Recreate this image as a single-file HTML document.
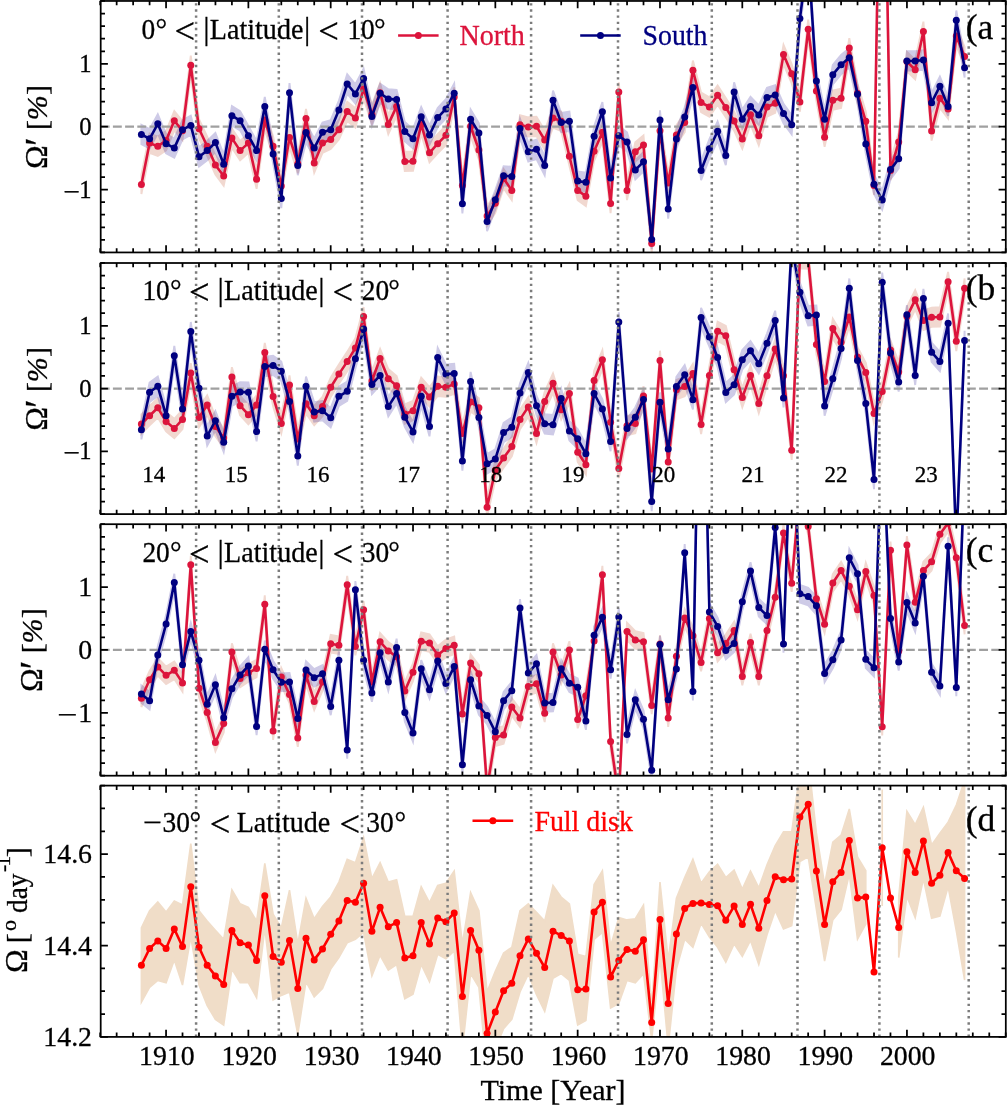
<!DOCTYPE html>
<html><head><meta charset="utf-8"><title>Solar rotation</title><style>html,body{margin:0;padding:0;background:#fff}svg{display:block}text{stroke:#000;stroke-width:.3px}</style></head><body>
<svg width="1007" height="1105" viewBox="0 0 1007 1105" font-family="'Liberation Serif', 'DejaVu Serif', serif">
<rect width="1007" height="1105" fill="#fff"/>
<defs>
<clipPath id="cpa"><rect x="100.7" y="0.96" width="905.0999999999999" height="251.48"/></clipPath>
<clipPath id="cpb"><rect x="100.7" y="263.0" width="905.0999999999999" height="251.10000000000002"/></clipPath>
<clipPath id="cpc"><rect x="100.7" y="524.2" width="905.0999999999999" height="251.5"/></clipPath>
<clipPath id="cpd"><rect x="100.7" y="785.6" width="905.0999999999999" height="251.30000000000007"/></clipPath>
</defs>
<g clip-path="url(#cpa)">
<polygon points="141.4,174.8 149.6,133.5 157.8,136.6 166.1,131.0 174.3,111.1 182.5,121.0 190.8,55.7 199.0,119.2 207.2,136.6 215.4,155.3 223.7,166.5 231.9,128.5 240.1,140.9 248.4,133.5 256.6,169.6 264.8,110.4 273.1,136.6 281.3,176.4 289.5,127.9 297.8,154.0 306.0,108.9 314.2,153.4 322.5,133.5 330.7,129.7 338.9,120.1 347.2,101.7 355.4,108.3 363.6,79.3 371.9,104.8 380.1,83.1 388.3,114.8 396.6,96.8 404.8,151.8 413.0,151.5 421.2,114.8 429.5,143.1 437.7,134.1 445.9,125.7 454.2,87.4 462.4,175.8 470.6,116.7 478.9,140.3 487.1,206.3 495.3,193.5 503.6,169.0 511.8,180.8 520.0,115.1 528.3,117.3 536.5,116.7 544.7,130.4 553.0,108.3 561.2,111.7 569.4,146.5 577.7,180.8 585.9,186.7 594.1,141.6 602.4,122.6 610.6,193.8 618.8,82.4 627.0,180.8 635.3,142.2 643.5,135.3 651.7,234.0 660.0,121.0 668.2,173.3 676.4,125.4 684.7,112.9 692.9,60.6 701.1,92.7 709.4,97.4 717.6,85.5 725.8,98.0 734.1,111.4 742.3,129.4 750.5,105.2 758.8,126.0 767.0,97.4 775.2,93.6 783.5,44.8 791.7,64.1 799.9,92.4 808.2,19.6 816.4,81.5 824.6,127.6 832.8,90.5 841.1,88.7 849.3,38.2 857.5,83.7 865.8,111.7 874.0,175.8 882.2,-300.4 890.5,160.9 898.7,132.2 906.9,51.9 915.2,60.0 923.4,21.7 931.6,121.3 939.9,88.7 948.1,99.2 956.3,26.4 964.6,47.0 964.6,66.3 956.3,45.7 948.1,118.5 939.9,108.0 931.6,140.6 923.4,41.0 915.2,79.3 906.9,71.2 898.7,151.5 890.5,180.2 882.2,-281.1 874.0,195.1 865.8,131.0 857.5,103.0 849.3,57.5 841.1,108.0 832.8,109.8 824.6,146.9 816.4,100.8 808.2,38.9 799.9,111.7 791.7,83.4 783.5,64.1 775.2,112.9 767.0,116.7 758.8,145.3 750.5,124.4 742.3,148.7 734.1,130.7 725.8,117.3 717.6,104.8 709.4,116.7 701.1,112.0 692.9,79.9 684.7,132.2 676.4,144.7 668.2,192.6 660.0,140.3 651.7,253.3 643.5,154.6 635.3,161.5 627.0,200.1 618.8,101.7 610.6,213.1 602.4,141.9 594.1,160.9 585.9,206.0 577.7,200.1 569.4,165.8 561.2,131.0 553.0,127.6 544.7,149.7 536.5,136.0 528.3,136.6 520.0,134.4 511.8,200.1 503.6,188.2 495.3,212.8 487.1,225.6 478.9,159.6 470.6,136.0 462.4,195.1 454.2,106.7 445.9,145.0 437.7,153.4 429.5,162.4 421.2,134.1 413.0,170.8 404.8,171.1 396.6,116.0 388.3,134.1 380.1,102.4 371.9,124.1 363.6,98.6 355.4,127.6 347.2,121.0 338.9,139.4 330.7,149.0 322.5,152.8 314.2,172.7 306.0,128.2 297.8,173.3 289.5,147.2 281.3,195.7 273.1,155.9 264.8,129.7 256.6,188.9 248.4,152.8 240.1,160.2 231.9,147.8 223.7,185.8 215.4,174.6 207.2,155.9 199.0,138.5 190.8,75.0 182.5,140.3 174.3,130.4 166.1,150.3 157.8,155.9 149.6,152.8 141.4,194.1" fill="#c0502a" stroke="#c0502a" stroke-width="1.9" stroke-miterlimit="4" opacity="0.22"/>
<polygon points="141.4,124.8 149.6,129.1 157.8,114.2 166.1,134.1 174.3,138.5 182.5,120.1 190.8,115.7 199.0,147.2 207.2,140.9 215.4,132.9 223.7,154.6 231.9,106.1 240.1,111.1 248.4,126.0 256.6,140.9 264.8,96.8 273.1,144.4 281.3,188.9 289.5,83.1 297.8,155.9 306.0,122.9 314.2,138.5 322.5,122.6 330.7,120.1 338.9,100.5 347.2,74.3 355.4,84.3 363.6,68.7 371.9,106.7 380.1,83.7 388.3,89.3 396.6,89.9 404.8,122.0 413.0,129.1 421.2,107.0 429.5,125.4 437.7,108.0 445.9,99.2 454.2,83.7 462.4,194.2 470.6,109.5 478.9,123.2 487.1,211.9 495.3,190.1 503.6,166.2 511.8,166.8 520.0,118.8 528.3,142.2 536.5,139.7 544.7,155.9 553.0,90.5 561.2,112.9 569.4,111.7 577.7,171.4 585.9,172.7 594.1,126.6 602.4,102.0 610.6,168.3 618.8,126.0 627.0,132.2 635.3,160.2 643.5,152.1 651.7,229.9 660.0,110.4 668.2,199.5 676.4,129.4 684.7,107.3 692.9,77.8 701.1,160.9 709.4,139.1 717.6,121.6 725.8,145.9 734.1,82.4 742.3,109.5 750.5,96.8 758.8,105.5 767.0,87.7 775.2,85.2 783.5,103.9 791.7,115.1 799.9,9.0 808.2,-54.5 816.4,71.2 824.6,109.5 832.8,65.0 841.1,55.0 849.3,48.2 857.5,84.6 865.8,134.4 874.0,174.6 882.2,190.4 890.5,159.9 898.7,149.0 906.9,51.3 915.2,51.3 923.4,50.4 931.6,93.0 939.9,76.5 948.1,96.8 956.3,10.5 964.6,58.2 964.6,77.5 956.3,29.8 948.1,116.0 939.9,95.8 931.6,112.3 923.4,69.7 915.2,70.6 906.9,70.6 898.7,168.3 890.5,179.2 882.2,209.7 874.0,193.8 865.8,153.7 857.5,103.9 849.3,67.5 841.1,74.3 832.8,84.3 824.6,128.8 816.4,90.5 808.2,-35.2 799.9,28.3 791.7,134.4 783.5,123.2 775.2,104.5 767.0,107.0 758.8,124.8 750.5,116.0 742.3,128.8 734.1,101.7 725.8,165.2 717.6,140.9 709.4,158.4 701.1,180.2 692.9,97.1 684.7,126.6 676.4,148.7 668.2,218.7 660.0,129.7 651.7,249.2 643.5,171.4 635.3,179.5 627.0,151.5 618.8,145.3 610.6,187.6 602.4,121.3 594.1,145.9 585.9,192.0 577.7,190.7 569.4,131.0 561.2,132.2 553.0,109.8 544.7,175.2 536.5,159.0 528.3,161.5 520.0,138.1 511.8,186.1 503.6,185.4 495.3,209.4 487.1,231.2 478.9,142.5 470.6,128.8 462.4,213.5 454.2,103.0 445.9,118.5 437.7,127.2 429.5,144.7 421.2,126.3 413.0,148.4 404.8,141.3 396.6,109.2 388.3,108.6 380.1,103.0 371.9,126.0 363.6,88.0 355.4,103.6 347.2,93.6 338.9,119.8 330.7,139.4 322.5,141.9 314.2,157.7 306.0,142.2 297.8,175.2 289.5,102.4 281.3,208.2 273.1,163.7 264.8,116.0 256.6,160.2 248.4,145.3 240.1,130.4 231.9,125.4 223.7,173.9 215.4,152.1 207.2,160.2 199.0,166.5 190.8,135.0 182.5,139.4 174.3,157.7 166.1,153.4 157.8,133.5 149.6,148.4 141.4,144.1" fill="#1a0a90" stroke="#1a0a90" stroke-width="1.9" stroke-miterlimit="4" opacity="0.21"/>
<line x1="100.7" x2="1005.8" y1="126.70" y2="126.70" stroke="#a0a0a0" stroke-width="2.2" stroke-dasharray="8.9 3.3"/>
<polyline fill="none" stroke="#dc143c" stroke-width="2.6" stroke-linejoin="round" points="141.4,184.5 149.6,143.1 157.8,146.2 166.1,140.6 174.3,120.7 182.5,130.7 190.8,65.3 199.0,128.8 207.2,146.2 215.4,164.9 223.7,176.1 231.9,138.1 240.1,150.6 248.4,143.1 256.6,179.2 264.8,120.1 273.1,146.2 281.3,186.1 289.5,137.5 297.8,163.7 306.0,118.5 314.2,163.0 322.5,143.1 330.7,139.4 338.9,129.7 347.2,111.4 355.4,117.9 363.6,89.0 371.9,114.5 380.1,92.7 388.3,124.4 396.6,106.4 404.8,161.5 413.0,161.2 421.2,124.4 429.5,152.8 437.7,143.7 445.9,135.3 454.2,97.1 462.4,185.4 470.6,126.3 478.9,150.0 487.1,215.9 495.3,203.2 503.6,178.6 511.8,190.4 520.0,124.8 528.3,126.9 536.5,126.3 544.7,140.0 553.0,117.9 561.2,121.3 569.4,156.2 577.7,190.4 585.9,196.3 594.1,151.2 602.4,132.2 610.6,203.5 618.8,92.1 627.0,190.4 635.3,151.8 643.5,145.0 651.7,243.6 660.0,130.7 668.2,183.0 676.4,135.0 684.7,122.6 692.9,70.3 701.1,102.4 709.4,107.0 717.6,95.2 725.8,107.6 734.1,121.0 742.3,139.1 750.5,114.8 758.8,135.7 767.0,107.0 775.2,103.3 783.5,54.4 791.7,73.7 799.9,102.0 808.2,29.2 816.4,91.1 824.6,137.2 832.8,100.2 841.1,98.3 849.3,47.9 857.5,93.3 865.8,121.3 874.0,185.4 882.2,-290.7 890.5,170.5 898.7,141.9 906.9,61.6 915.2,69.7 923.4,31.4 931.6,131.0 939.9,98.3 948.1,108.9 956.3,36.1 964.6,56.6"/>
<g fill="#dc143c"><circle cx="141.4" cy="184.5" r="3.5"/><circle cx="149.6" cy="143.1" r="3.5"/><circle cx="157.8" cy="146.2" r="3.5"/><circle cx="166.1" cy="140.6" r="3.5"/><circle cx="174.3" cy="120.7" r="3.5"/><circle cx="182.5" cy="130.7" r="3.5"/><circle cx="190.8" cy="65.3" r="3.5"/><circle cx="199.0" cy="128.8" r="3.5"/><circle cx="207.2" cy="146.2" r="3.5"/><circle cx="215.4" cy="164.9" r="3.5"/><circle cx="223.7" cy="176.1" r="3.5"/><circle cx="231.9" cy="138.1" r="3.5"/><circle cx="240.1" cy="150.6" r="3.5"/><circle cx="248.4" cy="143.1" r="3.5"/><circle cx="256.6" cy="179.2" r="3.5"/><circle cx="264.8" cy="120.1" r="3.5"/><circle cx="273.1" cy="146.2" r="3.5"/><circle cx="281.3" cy="186.1" r="3.5"/><circle cx="289.5" cy="137.5" r="3.5"/><circle cx="297.8" cy="163.7" r="3.5"/><circle cx="306.0" cy="118.5" r="3.5"/><circle cx="314.2" cy="163.0" r="3.5"/><circle cx="322.5" cy="143.1" r="3.5"/><circle cx="330.7" cy="139.4" r="3.5"/><circle cx="338.9" cy="129.7" r="3.5"/><circle cx="347.2" cy="111.4" r="3.5"/><circle cx="355.4" cy="117.9" r="3.5"/><circle cx="363.6" cy="89.0" r="3.5"/><circle cx="371.9" cy="114.5" r="3.5"/><circle cx="380.1" cy="92.7" r="3.5"/><circle cx="388.3" cy="124.4" r="3.5"/><circle cx="396.6" cy="106.4" r="3.5"/><circle cx="404.8" cy="161.5" r="3.5"/><circle cx="413.0" cy="161.2" r="3.5"/><circle cx="421.2" cy="124.4" r="3.5"/><circle cx="429.5" cy="152.8" r="3.5"/><circle cx="437.7" cy="143.7" r="3.5"/><circle cx="445.9" cy="135.3" r="3.5"/><circle cx="454.2" cy="97.1" r="3.5"/><circle cx="462.4" cy="185.4" r="3.5"/><circle cx="470.6" cy="126.3" r="3.5"/><circle cx="478.9" cy="150.0" r="3.5"/><circle cx="487.1" cy="215.9" r="3.5"/><circle cx="495.3" cy="203.2" r="3.5"/><circle cx="503.6" cy="178.6" r="3.5"/><circle cx="511.8" cy="190.4" r="3.5"/><circle cx="520.0" cy="124.8" r="3.5"/><circle cx="528.3" cy="126.9" r="3.5"/><circle cx="536.5" cy="126.3" r="3.5"/><circle cx="544.7" cy="140.0" r="3.5"/><circle cx="553.0" cy="117.9" r="3.5"/><circle cx="561.2" cy="121.3" r="3.5"/><circle cx="569.4" cy="156.2" r="3.5"/><circle cx="577.7" cy="190.4" r="3.5"/><circle cx="585.9" cy="196.3" r="3.5"/><circle cx="594.1" cy="151.2" r="3.5"/><circle cx="602.4" cy="132.2" r="3.5"/><circle cx="610.6" cy="203.5" r="3.5"/><circle cx="618.8" cy="92.1" r="3.5"/><circle cx="627.0" cy="190.4" r="3.5"/><circle cx="635.3" cy="151.8" r="3.5"/><circle cx="643.5" cy="145.0" r="3.5"/><circle cx="651.7" cy="243.6" r="3.5"/><circle cx="660.0" cy="130.7" r="3.5"/><circle cx="668.2" cy="183.0" r="3.5"/><circle cx="676.4" cy="135.0" r="3.5"/><circle cx="684.7" cy="122.6" r="3.5"/><circle cx="692.9" cy="70.3" r="3.5"/><circle cx="701.1" cy="102.4" r="3.5"/><circle cx="709.4" cy="107.0" r="3.5"/><circle cx="717.6" cy="95.2" r="3.5"/><circle cx="725.8" cy="107.6" r="3.5"/><circle cx="734.1" cy="121.0" r="3.5"/><circle cx="742.3" cy="139.1" r="3.5"/><circle cx="750.5" cy="114.8" r="3.5"/><circle cx="758.8" cy="135.7" r="3.5"/><circle cx="767.0" cy="107.0" r="3.5"/><circle cx="775.2" cy="103.3" r="3.5"/><circle cx="783.5" cy="54.4" r="3.5"/><circle cx="791.7" cy="73.7" r="3.5"/><circle cx="799.9" cy="102.0" r="3.5"/><circle cx="808.2" cy="29.2" r="3.5"/><circle cx="816.4" cy="91.1" r="3.5"/><circle cx="824.6" cy="137.2" r="3.5"/><circle cx="832.8" cy="100.2" r="3.5"/><circle cx="841.1" cy="98.3" r="3.5"/><circle cx="849.3" cy="47.9" r="3.5"/><circle cx="857.5" cy="93.3" r="3.5"/><circle cx="865.8" cy="121.3" r="3.5"/><circle cx="874.0" cy="185.4" r="3.5"/><circle cx="890.5" cy="170.5" r="3.5"/><circle cx="898.7" cy="141.9" r="3.5"/><circle cx="906.9" cy="61.6" r="3.5"/><circle cx="915.2" cy="69.7" r="3.5"/><circle cx="923.4" cy="31.4" r="3.5"/><circle cx="931.6" cy="131.0" r="3.5"/><circle cx="939.9" cy="98.3" r="3.5"/><circle cx="948.1" cy="108.9" r="3.5"/><circle cx="956.3" cy="36.1" r="3.5"/><circle cx="964.6" cy="56.6" r="3.5"/></g>
<polyline fill="none" stroke="#000080" stroke-width="2.6" stroke-linejoin="round" points="141.4,134.4 149.6,138.8 157.8,123.8 166.1,143.7 174.3,148.1 182.5,129.7 190.8,125.4 199.0,156.8 207.2,150.6 215.4,142.5 223.7,164.3 231.9,115.7 240.1,120.7 248.4,135.7 256.6,150.6 264.8,106.4 273.1,154.0 281.3,198.5 289.5,92.7 297.8,165.5 306.0,132.5 314.2,148.1 322.5,132.2 330.7,129.7 338.9,110.1 347.2,84.0 355.4,93.9 363.6,78.4 371.9,116.4 380.1,93.3 388.3,98.9 396.6,99.6 404.8,131.6 413.0,138.8 421.2,116.7 429.5,135.0 437.7,117.6 445.9,108.9 454.2,93.3 462.4,203.8 470.6,119.2 478.9,132.9 487.1,221.5 495.3,199.8 503.6,175.8 511.8,176.4 520.0,128.5 528.3,151.8 536.5,149.3 544.7,165.5 553.0,100.2 561.2,122.6 569.4,121.3 577.7,181.1 585.9,182.3 594.1,136.3 602.4,111.7 610.6,178.0 618.8,135.7 627.0,141.9 635.3,169.9 643.5,161.8 651.7,239.6 660.0,120.1 668.2,209.1 676.4,139.1 684.7,117.0 692.9,87.4 701.1,170.5 709.4,148.7 717.6,131.3 725.8,155.6 734.1,92.1 742.3,119.2 750.5,106.4 758.8,115.1 767.0,97.4 775.2,94.9 783.5,113.6 791.7,124.8 799.9,18.6 808.2,-44.9 816.4,80.9 824.6,119.2 832.8,74.7 841.1,64.7 849.3,57.8 857.5,94.3 865.8,144.1 874.0,184.2 882.2,200.1 890.5,169.6 898.7,158.7 906.9,61.0 915.2,61.0 923.4,60.0 931.6,102.7 939.9,86.2 948.1,106.4 956.3,20.2 964.6,67.8"/>
<g fill="#000080"><circle cx="141.4" cy="134.4" r="3.5"/><circle cx="149.6" cy="138.8" r="3.5"/><circle cx="157.8" cy="123.8" r="3.5"/><circle cx="166.1" cy="143.7" r="3.5"/><circle cx="174.3" cy="148.1" r="3.5"/><circle cx="182.5" cy="129.7" r="3.5"/><circle cx="190.8" cy="125.4" r="3.5"/><circle cx="199.0" cy="156.8" r="3.5"/><circle cx="207.2" cy="150.6" r="3.5"/><circle cx="215.4" cy="142.5" r="3.5"/><circle cx="223.7" cy="164.3" r="3.5"/><circle cx="231.9" cy="115.7" r="3.5"/><circle cx="240.1" cy="120.7" r="3.5"/><circle cx="248.4" cy="135.7" r="3.5"/><circle cx="256.6" cy="150.6" r="3.5"/><circle cx="264.8" cy="106.4" r="3.5"/><circle cx="273.1" cy="154.0" r="3.5"/><circle cx="281.3" cy="198.5" r="3.5"/><circle cx="289.5" cy="92.7" r="3.5"/><circle cx="297.8" cy="165.5" r="3.5"/><circle cx="306.0" cy="132.5" r="3.5"/><circle cx="314.2" cy="148.1" r="3.5"/><circle cx="322.5" cy="132.2" r="3.5"/><circle cx="330.7" cy="129.7" r="3.5"/><circle cx="338.9" cy="110.1" r="3.5"/><circle cx="347.2" cy="84.0" r="3.5"/><circle cx="355.4" cy="93.9" r="3.5"/><circle cx="363.6" cy="78.4" r="3.5"/><circle cx="371.9" cy="116.4" r="3.5"/><circle cx="380.1" cy="93.3" r="3.5"/><circle cx="388.3" cy="98.9" r="3.5"/><circle cx="396.6" cy="99.6" r="3.5"/><circle cx="404.8" cy="131.6" r="3.5"/><circle cx="413.0" cy="138.8" r="3.5"/><circle cx="421.2" cy="116.7" r="3.5"/><circle cx="429.5" cy="135.0" r="3.5"/><circle cx="437.7" cy="117.6" r="3.5"/><circle cx="445.9" cy="108.9" r="3.5"/><circle cx="454.2" cy="93.3" r="3.5"/><circle cx="462.4" cy="203.8" r="3.5"/><circle cx="470.6" cy="119.2" r="3.5"/><circle cx="478.9" cy="132.9" r="3.5"/><circle cx="487.1" cy="221.5" r="3.5"/><circle cx="495.3" cy="199.8" r="3.5"/><circle cx="503.6" cy="175.8" r="3.5"/><circle cx="511.8" cy="176.4" r="3.5"/><circle cx="520.0" cy="128.5" r="3.5"/><circle cx="528.3" cy="151.8" r="3.5"/><circle cx="536.5" cy="149.3" r="3.5"/><circle cx="544.7" cy="165.5" r="3.5"/><circle cx="553.0" cy="100.2" r="3.5"/><circle cx="561.2" cy="122.6" r="3.5"/><circle cx="569.4" cy="121.3" r="3.5"/><circle cx="577.7" cy="181.1" r="3.5"/><circle cx="585.9" cy="182.3" r="3.5"/><circle cx="594.1" cy="136.3" r="3.5"/><circle cx="602.4" cy="111.7" r="3.5"/><circle cx="610.6" cy="178.0" r="3.5"/><circle cx="618.8" cy="135.7" r="3.5"/><circle cx="627.0" cy="141.9" r="3.5"/><circle cx="635.3" cy="169.9" r="3.5"/><circle cx="643.5" cy="161.8" r="3.5"/><circle cx="651.7" cy="239.6" r="3.5"/><circle cx="660.0" cy="120.1" r="3.5"/><circle cx="668.2" cy="209.1" r="3.5"/><circle cx="676.4" cy="139.1" r="3.5"/><circle cx="684.7" cy="117.0" r="3.5"/><circle cx="692.9" cy="87.4" r="3.5"/><circle cx="701.1" cy="170.5" r="3.5"/><circle cx="709.4" cy="148.7" r="3.5"/><circle cx="717.6" cy="131.3" r="3.5"/><circle cx="725.8" cy="155.6" r="3.5"/><circle cx="734.1" cy="92.1" r="3.5"/><circle cx="742.3" cy="119.2" r="3.5"/><circle cx="750.5" cy="106.4" r="3.5"/><circle cx="758.8" cy="115.1" r="3.5"/><circle cx="767.0" cy="97.4" r="3.5"/><circle cx="775.2" cy="94.9" r="3.5"/><circle cx="783.5" cy="113.6" r="3.5"/><circle cx="791.7" cy="124.8" r="3.5"/><circle cx="799.9" cy="18.6" r="3.5"/><circle cx="816.4" cy="80.9" r="3.5"/><circle cx="824.6" cy="119.2" r="3.5"/><circle cx="832.8" cy="74.7" r="3.5"/><circle cx="841.1" cy="64.7" r="3.5"/><circle cx="849.3" cy="57.8" r="3.5"/><circle cx="857.5" cy="94.3" r="3.5"/><circle cx="865.8" cy="144.1" r="3.5"/><circle cx="874.0" cy="184.2" r="3.5"/><circle cx="882.2" cy="200.1" r="3.5"/><circle cx="890.5" cy="169.6" r="3.5"/><circle cx="898.7" cy="158.7" r="3.5"/><circle cx="906.9" cy="61.0" r="3.5"/><circle cx="915.2" cy="61.0" r="3.5"/><circle cx="923.4" cy="60.0" r="3.5"/><circle cx="931.6" cy="102.7" r="3.5"/><circle cx="939.9" cy="86.2" r="3.5"/><circle cx="948.1" cy="106.4" r="3.5"/><circle cx="956.3" cy="20.2" r="3.5"/><circle cx="964.6" cy="67.8" r="3.5"/></g>
<line x1="196.1" x2="196.1" y1="0.96" y2="252.44" stroke="#7c7c7c" stroke-width="2.5" stroke-dasharray="2.4 3.77" stroke-dashoffset="4"/><line x1="278.8" x2="278.8" y1="0.96" y2="252.44" stroke="#7c7c7c" stroke-width="2.5" stroke-dasharray="2.4 3.77" stroke-dashoffset="4"/><line x1="362.0" x2="362.0" y1="0.96" y2="252.44" stroke="#7c7c7c" stroke-width="2.5" stroke-dasharray="2.4 3.77" stroke-dashoffset="4"/><line x1="447.6" x2="447.6" y1="0.96" y2="252.44" stroke="#7c7c7c" stroke-width="2.5" stroke-dasharray="2.4 3.77" stroke-dashoffset="4"/><line x1="531.1" x2="531.1" y1="0.96" y2="252.44" stroke="#7c7c7c" stroke-width="2.5" stroke-dasharray="2.4 3.77" stroke-dashoffset="4"/><line x1="618.0" x2="618.0" y1="0.96" y2="252.44" stroke="#7c7c7c" stroke-width="2.5" stroke-dasharray="2.4 3.77" stroke-dashoffset="4"/><line x1="711.8" x2="711.8" y1="0.96" y2="252.44" stroke="#7c7c7c" stroke-width="2.5" stroke-dasharray="2.4 3.77" stroke-dashoffset="4"/><line x1="797.5" x2="797.5" y1="0.96" y2="252.44" stroke="#7c7c7c" stroke-width="2.5" stroke-dasharray="2.4 3.77" stroke-dashoffset="4"/><line x1="879.4" x2="879.4" y1="0.96" y2="252.44" stroke="#7c7c7c" stroke-width="2.5" stroke-dasharray="2.4 3.77" stroke-dashoffset="4"/><line x1="968.7" x2="968.7" y1="0.96" y2="252.44" stroke="#7c7c7c" stroke-width="2.5" stroke-dasharray="2.4 3.77" stroke-dashoffset="4"/>
</g>
<path d="M100.20 252.44v-4.3M100.20 0.96v4.3M116.66 252.44v-4.3M116.66 0.96v4.3M133.13 252.44v-4.3M133.13 0.96v4.3M149.59 252.44v-4.3M149.59 0.96v4.3M166.06 252.44v-7.2M166.06 0.96v7.2M182.52 252.44v-4.3M182.52 0.96v4.3M198.98 252.44v-4.3M198.98 0.96v4.3M215.45 252.44v-4.3M215.45 0.96v4.3M231.91 252.44v-4.3M231.91 0.96v4.3M248.38 252.44v-7.2M248.38 0.96v7.2M264.84 252.44v-4.3M264.84 0.96v4.3M281.30 252.44v-4.3M281.30 0.96v4.3M297.77 252.44v-4.3M297.77 0.96v4.3M314.23 252.44v-4.3M314.23 0.96v4.3M330.70 252.44v-7.2M330.70 0.96v7.2M347.16 252.44v-4.3M347.16 0.96v4.3M363.62 252.44v-4.3M363.62 0.96v4.3M380.09 252.44v-4.3M380.09 0.96v4.3M396.55 252.44v-4.3M396.55 0.96v4.3M413.02 252.44v-7.2M413.02 0.96v7.2M429.48 252.44v-4.3M429.48 0.96v4.3M445.94 252.44v-4.3M445.94 0.96v4.3M462.41 252.44v-4.3M462.41 0.96v4.3M478.87 252.44v-4.3M478.87 0.96v4.3M495.34 252.44v-7.2M495.34 0.96v7.2M511.80 252.44v-4.3M511.80 0.96v4.3M528.26 252.44v-4.3M528.26 0.96v4.3M544.73 252.44v-4.3M544.73 0.96v4.3M561.19 252.44v-4.3M561.19 0.96v4.3M577.66 252.44v-7.2M577.66 0.96v7.2M594.12 252.44v-4.3M594.12 0.96v4.3M610.58 252.44v-4.3M610.58 0.96v4.3M627.05 252.44v-4.3M627.05 0.96v4.3M643.51 252.44v-4.3M643.51 0.96v4.3M659.98 252.44v-7.2M659.98 0.96v7.2M676.44 252.44v-4.3M676.44 0.96v4.3M692.90 252.44v-4.3M692.90 0.96v4.3M709.37 252.44v-4.3M709.37 0.96v4.3M725.83 252.44v-4.3M725.83 0.96v4.3M742.30 252.44v-7.2M742.30 0.96v7.2M758.76 252.44v-4.3M758.76 0.96v4.3M775.22 252.44v-4.3M775.22 0.96v4.3M791.69 252.44v-4.3M791.69 0.96v4.3M808.15 252.44v-4.3M808.15 0.96v4.3M824.62 252.44v-7.2M824.62 0.96v7.2M841.08 252.44v-4.3M841.08 0.96v4.3M857.54 252.44v-4.3M857.54 0.96v4.3M874.01 252.44v-4.3M874.01 0.96v4.3M890.47 252.44v-4.3M890.47 0.96v4.3M906.94 252.44v-7.2M906.94 0.96v7.2M923.40 252.44v-4.3M923.40 0.96v4.3M939.86 252.44v-4.3M939.86 0.96v4.3M956.33 252.44v-4.3M956.33 0.96v4.3M972.79 252.44v-4.3M972.79 0.96v4.3M989.26 252.44v-4.3M989.26 0.96v4.3M1005.72 252.44v-4.3M1005.72 0.96v4.3M100.7 189.57h7.2M1005.8 189.57h-7.2M100.7 126.70h7.2M1005.8 126.70h-7.2M100.7 63.83h7.2M1005.8 63.83h-7.2M100.7 252.44h4.3M1005.8 252.44h-4.3M100.7 239.87h4.3M1005.8 239.87h-4.3M100.7 227.29h4.3M1005.8 227.29h-4.3M100.7 214.72h4.3M1005.8 214.72h-4.3M100.7 202.14h4.3M1005.8 202.14h-4.3M100.7 177.00h4.3M1005.8 177.00h-4.3M100.7 164.42h4.3M1005.8 164.42h-4.3M100.7 151.85h4.3M1005.8 151.85h-4.3M100.7 139.27h4.3M1005.8 139.27h-4.3M100.7 114.13h4.3M1005.8 114.13h-4.3M100.7 101.55h4.3M1005.8 101.55h-4.3M100.7 88.98h4.3M1005.8 88.98h-4.3M100.7 76.40h4.3M1005.8 76.40h-4.3M100.7 51.26h4.3M1005.8 51.26h-4.3M100.7 38.68h4.3M1005.8 38.68h-4.3M100.7 26.11h4.3M1005.8 26.11h-4.3M100.7 13.53h4.3M1005.8 13.53h-4.3M100.7 0.96h4.3M1005.8 0.96h-4.3" stroke="#000" stroke-width="1.75" fill="none"/><rect x="100.7" y="0.96" width="905.0999999999999" height="251.48" fill="none" stroke="#000" stroke-width="1.75"/>
<text x="91.5" y="71.9" font-size="24.5" text-anchor="end">1</text>
<text x="91.5" y="134.8" font-size="24.5" text-anchor="end">0</text>
<text x="91.5" y="197.7" font-size="24.5" text-anchor="end">1</text>
<text x="63.5" y="199.7" font-size="24.5" textLength="16.6" lengthAdjust="spacingAndGlyphs">−</text>
<text transform="translate(47.3 168.9) rotate(-90)" font-size="32" >Ω</text>
<text transform="translate(52.0 146.0) rotate(-90)" font-size="40" >′</text>
<text transform="translate(47.3 130.0) rotate(-90)" font-size="30" >[</text>
<text transform="translate(47.3 120.3) rotate(-90)" font-size="30" font-style="italic">%</text>
<text transform="translate(47.3 95.0) rotate(-90)" font-size="30" >]</text>
<g clip-path="url(#cpb)">
<polygon points="141.4,414.4 149.6,406.0 157.8,398.2 166.1,411.9 174.3,418.8 182.5,409.7 190.8,363.2 199.0,407.8 207.2,395.4 215.4,416.9 223.7,428.5 231.9,367.2 240.1,396.0 248.4,405.0 256.6,395.4 264.8,342.9 273.1,386.9 281.3,413.8 289.5,375.4 297.8,429.4 306.0,394.1 314.2,406.0 322.5,396.9 330.7,377.6 338.9,364.4 347.2,351.9 355.4,338.2 363.6,307.0 371.9,371.3 380.1,348.8 388.3,369.1 396.6,376.0 404.8,404.4 413.0,401.0 421.2,377.6 429.5,387.2 437.7,376.6 445.9,377.6 454.2,374.4 462.4,423.8 470.6,392.2 478.9,398.2 487.1,497.5 495.3,460.6 503.6,448.5 511.8,436.9 520.0,409.7 528.3,397.2 536.5,423.8 544.7,391.9 553.0,373.5 561.2,400.0 569.4,383.8 577.7,442.5 585.9,455.0 594.1,370.7 602.4,350.1 610.6,412.5 618.8,458.8 627.0,416.0 635.3,413.8 643.5,386.3 651.7,459.4 660.0,350.7 668.2,452.2 676.4,380.0 684.7,376.9 692.9,363.8 701.1,414.7 709.4,365.7 717.6,321.6 725.8,326.0 734.1,360.1 742.3,387.9 750.5,365.7 758.8,393.8 767.0,366.0 775.2,339.4 783.5,366.0 791.7,440.6 799.9,248.9 808.2,249.5 816.4,334.8 824.6,371.9 832.8,318.8 841.1,332.6 849.3,307.3 857.5,347.3 865.8,362.9 874.0,403.8 882.2,381.9 890.5,340.4 898.7,362.2 906.9,307.0 915.2,290.1 923.4,310.7 931.6,307.6 939.9,307.3 948.1,272.0 956.3,331.6 964.6,278.5 964.6,297.9 956.3,351.0 948.1,291.3 939.9,326.6 931.6,326.9 923.4,330.1 915.2,309.5 906.9,326.3 898.7,381.6 890.5,359.7 882.2,401.3 874.0,423.2 865.8,382.2 857.5,366.6 849.3,326.6 841.1,351.9 832.8,338.2 824.6,391.3 816.4,354.1 808.2,268.9 799.9,268.2 791.7,460.0 783.5,385.4 775.2,358.8 767.0,385.4 758.8,413.2 750.5,385.0 742.3,407.2 734.1,379.4 725.8,345.4 717.6,341.0 709.4,385.0 701.1,434.1 692.9,383.2 684.7,396.3 676.4,399.4 668.2,471.6 660.0,370.1 651.7,478.8 643.5,405.7 635.3,433.1 627.0,435.3 618.8,478.1 610.6,431.9 602.4,369.4 594.1,390.0 585.9,474.4 577.7,461.9 569.4,403.2 561.2,419.4 553.0,392.9 544.7,411.3 536.5,443.1 528.3,416.6 520.0,429.1 511.8,456.3 503.6,467.8 495.3,480.0 487.1,516.9 478.9,417.5 470.6,411.6 462.4,443.1 454.2,393.8 445.9,396.9 437.7,396.0 429.5,406.6 421.2,396.9 413.0,420.3 404.8,423.8 396.6,395.4 388.3,388.5 380.1,368.2 371.9,390.7 363.6,326.3 355.4,357.6 347.2,371.3 338.9,383.8 330.7,396.9 322.5,416.3 314.2,425.3 306.0,413.5 297.8,448.8 289.5,394.7 281.3,433.1 273.1,406.3 264.8,362.2 256.6,414.7 248.4,424.4 240.1,415.3 231.9,386.6 223.7,447.8 215.4,436.3 207.2,414.7 199.0,427.2 190.8,382.5 182.5,429.1 174.3,438.1 166.1,431.3 157.8,417.5 149.6,425.3 141.4,433.8" fill="#c0502a" stroke="#c0502a" stroke-width="1.9" stroke-miterlimit="4" opacity="0.22"/>
<polygon points="141.4,420.0 149.6,382.5 157.8,376.6 166.1,406.0 174.3,346.0 182.5,399.4 190.8,322.0 199.0,378.5 207.2,426.3 215.4,411.0 223.7,432.5 231.9,386.6 240.1,382.2 248.4,382.5 256.6,421.9 264.8,356.9 273.1,355.7 281.3,361.6 289.5,391.9 297.8,446.3 306.0,376.6 314.2,402.2 322.5,401.0 330.7,408.2 338.9,386.6 347.2,381.6 355.4,349.1 363.6,319.5 371.9,374.7 380.1,365.7 388.3,396.9 396.6,383.8 404.8,407.5 413.0,422.2 421.2,386.6 429.5,416.9 437.7,347.9 445.9,364.4 454.2,363.8 462.4,451.3 470.6,371.9 478.9,407.8 487.1,454.1 495.3,449.4 503.6,422.8 511.8,417.5 520.0,383.2 528.3,362.9 536.5,396.0 544.7,414.1 553.0,415.0 561.2,388.8 569.4,421.3 577.7,429.1 585.9,444.1 594.1,383.8 602.4,399.4 610.6,431.9 618.8,312.3 627.0,418.8 635.3,407.5 643.5,389.7 651.7,491.9 660.0,392.5 668.2,439.4 676.4,376.9 684.7,365.1 692.9,390.0 701.1,307.9 709.4,327.3 717.6,347.9 725.8,382.9 734.1,375.1 742.3,350.1 750.5,341.0 758.8,354.1 767.0,333.5 775.2,310.7 783.5,388.2 791.7,234.5 799.9,282.6 808.2,306.0 816.4,305.4 824.6,396.3 832.8,369.1 841.1,338.8 849.3,278.5 857.5,350.7 865.8,393.8 874.0,469.7 882.2,272.6 890.5,343.2 898.7,372.2 906.9,305.1 915.2,365.7 923.4,288.8 931.6,342.6 939.9,351.9 948.1,313.5 956.3,534.4 964.6,330.7 964.6,350.1 956.3,553.7 948.1,332.9 939.9,371.3 931.6,361.9 923.4,308.2 915.2,385.0 906.9,324.4 898.7,391.6 890.5,362.6 882.2,292.0 874.0,489.1 865.8,413.2 857.5,370.1 849.3,297.9 841.1,358.2 832.8,388.5 824.6,415.7 816.4,324.8 808.2,325.4 799.9,302.0 791.7,253.9 783.5,407.5 775.2,330.1 767.0,352.9 758.8,373.5 750.5,360.4 742.3,369.4 734.1,394.4 725.8,402.2 717.6,367.2 709.4,346.6 701.1,327.3 692.9,409.4 684.7,384.4 676.4,396.3 668.2,458.8 660.0,411.9 651.7,511.2 643.5,409.1 635.3,426.9 627.0,438.1 618.8,331.6 610.6,451.3 602.4,418.8 594.1,403.2 585.9,463.4 577.7,448.5 569.4,440.6 561.2,408.2 553.0,434.4 544.7,433.5 536.5,415.3 528.3,382.2 520.0,402.5 511.8,436.9 503.6,442.2 495.3,468.8 487.1,473.4 478.9,427.2 470.6,391.3 462.4,470.6 454.2,383.2 445.9,383.8 437.7,367.2 429.5,436.3 421.2,406.0 413.0,441.6 404.8,426.9 396.6,403.2 388.3,416.3 380.1,385.0 371.9,394.1 363.6,338.8 355.4,368.5 347.2,401.0 338.9,406.0 330.7,427.5 322.5,420.3 314.2,421.6 306.0,396.0 297.8,465.6 289.5,411.3 281.3,381.0 273.1,375.1 264.8,376.3 256.6,441.3 248.4,401.9 240.1,401.6 231.9,406.0 223.7,451.9 215.4,430.3 207.2,445.6 199.0,397.9 190.8,341.3 182.5,418.8 174.3,365.4 166.1,425.3 157.8,396.0 149.6,401.9 141.4,439.4" fill="#1a0a90" stroke="#1a0a90" stroke-width="1.9" stroke-miterlimit="4" opacity="0.21"/>
<line x1="100.7" x2="1005.8" y1="388.55" y2="388.55" stroke="#a0a0a0" stroke-width="2.2" stroke-dasharray="8.9 3.3"/>
<polyline fill="none" stroke="#dc143c" stroke-width="2.6" stroke-linejoin="round" points="141.4,424.1 149.6,415.7 157.8,407.8 166.1,421.6 174.3,428.5 182.5,419.4 190.8,372.9 199.0,417.5 207.2,405.0 215.4,426.6 223.7,438.1 231.9,376.9 240.1,405.7 248.4,414.7 256.6,405.0 264.8,352.6 273.1,396.6 281.3,423.5 289.5,385.0 297.8,439.1 306.0,403.8 314.2,415.7 322.5,406.6 330.7,387.2 338.9,374.1 347.2,361.6 355.4,347.9 363.6,316.6 371.9,381.0 380.1,358.5 388.3,378.8 396.6,385.7 404.8,414.1 413.0,410.7 421.2,387.2 429.5,396.9 437.7,386.3 445.9,387.2 454.2,384.1 462.4,433.5 470.6,401.9 478.9,407.8 487.1,507.2 495.3,470.3 503.6,458.1 511.8,446.6 520.0,419.4 528.3,406.9 536.5,433.5 544.7,401.6 553.0,383.2 561.2,409.7 569.4,393.5 577.7,452.2 585.9,464.7 594.1,380.4 602.4,359.7 610.6,422.2 618.8,468.4 627.0,425.7 635.3,423.5 643.5,396.0 651.7,469.1 660.0,360.4 668.2,461.9 676.4,389.7 684.7,386.6 692.9,373.5 701.1,424.4 709.4,375.4 717.6,331.3 725.8,335.7 734.1,369.7 742.3,397.5 750.5,375.4 758.8,403.5 767.0,375.7 775.2,349.1 783.5,375.7 791.7,450.3 799.9,258.5 808.2,259.2 816.4,344.4 824.6,381.6 832.8,328.5 841.1,342.3 849.3,317.0 857.5,356.9 865.8,372.6 874.0,413.5 882.2,391.6 890.5,350.1 898.7,371.9 906.9,316.6 915.2,299.8 923.4,320.4 931.6,317.3 939.9,317.0 948.1,281.7 956.3,341.3 964.6,288.2"/>
<g fill="#dc143c"><circle cx="141.4" cy="424.1" r="3.5"/><circle cx="149.6" cy="415.7" r="3.5"/><circle cx="157.8" cy="407.8" r="3.5"/><circle cx="166.1" cy="421.6" r="3.5"/><circle cx="174.3" cy="428.5" r="3.5"/><circle cx="182.5" cy="419.4" r="3.5"/><circle cx="190.8" cy="372.9" r="3.5"/><circle cx="199.0" cy="417.5" r="3.5"/><circle cx="207.2" cy="405.0" r="3.5"/><circle cx="215.4" cy="426.6" r="3.5"/><circle cx="223.7" cy="438.1" r="3.5"/><circle cx="231.9" cy="376.9" r="3.5"/><circle cx="240.1" cy="405.7" r="3.5"/><circle cx="248.4" cy="414.7" r="3.5"/><circle cx="256.6" cy="405.0" r="3.5"/><circle cx="264.8" cy="352.6" r="3.5"/><circle cx="273.1" cy="396.6" r="3.5"/><circle cx="281.3" cy="423.5" r="3.5"/><circle cx="289.5" cy="385.0" r="3.5"/><circle cx="297.8" cy="439.1" r="3.5"/><circle cx="306.0" cy="403.8" r="3.5"/><circle cx="314.2" cy="415.7" r="3.5"/><circle cx="322.5" cy="406.6" r="3.5"/><circle cx="330.7" cy="387.2" r="3.5"/><circle cx="338.9" cy="374.1" r="3.5"/><circle cx="347.2" cy="361.6" r="3.5"/><circle cx="355.4" cy="347.9" r="3.5"/><circle cx="363.6" cy="316.6" r="3.5"/><circle cx="371.9" cy="381.0" r="3.5"/><circle cx="380.1" cy="358.5" r="3.5"/><circle cx="388.3" cy="378.8" r="3.5"/><circle cx="396.6" cy="385.7" r="3.5"/><circle cx="404.8" cy="414.1" r="3.5"/><circle cx="413.0" cy="410.7" r="3.5"/><circle cx="421.2" cy="387.2" r="3.5"/><circle cx="429.5" cy="396.9" r="3.5"/><circle cx="437.7" cy="386.3" r="3.5"/><circle cx="445.9" cy="387.2" r="3.5"/><circle cx="454.2" cy="384.1" r="3.5"/><circle cx="462.4" cy="433.5" r="3.5"/><circle cx="470.6" cy="401.9" r="3.5"/><circle cx="478.9" cy="407.8" r="3.5"/><circle cx="487.1" cy="507.2" r="3.5"/><circle cx="495.3" cy="470.3" r="3.5"/><circle cx="503.6" cy="458.1" r="3.5"/><circle cx="511.8" cy="446.6" r="3.5"/><circle cx="520.0" cy="419.4" r="3.5"/><circle cx="528.3" cy="406.9" r="3.5"/><circle cx="536.5" cy="433.5" r="3.5"/><circle cx="544.7" cy="401.6" r="3.5"/><circle cx="553.0" cy="383.2" r="3.5"/><circle cx="561.2" cy="409.7" r="3.5"/><circle cx="569.4" cy="393.5" r="3.5"/><circle cx="577.7" cy="452.2" r="3.5"/><circle cx="585.9" cy="464.7" r="3.5"/><circle cx="594.1" cy="380.4" r="3.5"/><circle cx="602.4" cy="359.7" r="3.5"/><circle cx="610.6" cy="422.2" r="3.5"/><circle cx="618.8" cy="468.4" r="3.5"/><circle cx="627.0" cy="425.7" r="3.5"/><circle cx="635.3" cy="423.5" r="3.5"/><circle cx="643.5" cy="396.0" r="3.5"/><circle cx="651.7" cy="469.1" r="3.5"/><circle cx="660.0" cy="360.4" r="3.5"/><circle cx="668.2" cy="461.9" r="3.5"/><circle cx="676.4" cy="389.7" r="3.5"/><circle cx="684.7" cy="386.6" r="3.5"/><circle cx="692.9" cy="373.5" r="3.5"/><circle cx="701.1" cy="424.4" r="3.5"/><circle cx="709.4" cy="375.4" r="3.5"/><circle cx="717.6" cy="331.3" r="3.5"/><circle cx="725.8" cy="335.7" r="3.5"/><circle cx="734.1" cy="369.7" r="3.5"/><circle cx="742.3" cy="397.5" r="3.5"/><circle cx="750.5" cy="375.4" r="3.5"/><circle cx="758.8" cy="403.5" r="3.5"/><circle cx="767.0" cy="375.7" r="3.5"/><circle cx="775.2" cy="349.1" r="3.5"/><circle cx="783.5" cy="375.7" r="3.5"/><circle cx="791.7" cy="450.3" r="3.5"/><circle cx="799.9" cy="258.5" r="3.5"/><circle cx="808.2" cy="259.2" r="3.5"/><circle cx="816.4" cy="344.4" r="3.5"/><circle cx="824.6" cy="381.6" r="3.5"/><circle cx="832.8" cy="328.5" r="3.5"/><circle cx="841.1" cy="342.3" r="3.5"/><circle cx="849.3" cy="317.0" r="3.5"/><circle cx="857.5" cy="356.9" r="3.5"/><circle cx="865.8" cy="372.6" r="3.5"/><circle cx="874.0" cy="413.5" r="3.5"/><circle cx="882.2" cy="391.6" r="3.5"/><circle cx="890.5" cy="350.1" r="3.5"/><circle cx="898.7" cy="371.9" r="3.5"/><circle cx="906.9" cy="316.6" r="3.5"/><circle cx="915.2" cy="299.8" r="3.5"/><circle cx="923.4" cy="320.4" r="3.5"/><circle cx="931.6" cy="317.3" r="3.5"/><circle cx="939.9" cy="317.0" r="3.5"/><circle cx="948.1" cy="281.7" r="3.5"/><circle cx="956.3" cy="341.3" r="3.5"/><circle cx="964.6" cy="288.2" r="3.5"/></g>
<polyline fill="none" stroke="#000080" stroke-width="2.6" stroke-linejoin="round" points="141.4,429.7 149.6,392.2 157.8,386.3 166.1,415.7 174.3,355.7 182.5,409.1 190.8,331.6 199.0,388.2 207.2,436.0 215.4,420.7 223.7,442.2 231.9,396.3 240.1,391.9 248.4,392.2 256.6,431.6 264.8,366.6 273.1,365.4 281.3,371.3 289.5,401.6 297.8,456.0 306.0,386.3 314.2,411.9 322.5,410.7 330.7,417.8 338.9,396.3 347.2,391.3 355.4,358.8 363.6,329.1 371.9,384.4 380.1,375.4 388.3,406.6 396.6,393.5 404.8,417.2 413.0,431.9 421.2,396.3 429.5,426.6 437.7,357.6 445.9,374.1 454.2,373.5 462.4,460.9 470.6,381.6 478.9,417.5 487.1,463.8 495.3,459.1 503.6,432.5 511.8,427.2 520.0,392.9 528.3,372.6 536.5,405.7 544.7,423.8 553.0,424.7 561.2,398.5 569.4,431.0 577.7,438.8 585.9,453.8 594.1,393.5 602.4,409.1 610.6,441.6 618.8,322.0 627.0,428.5 635.3,417.2 643.5,399.4 651.7,501.6 660.0,402.2 668.2,449.1 676.4,386.6 684.7,374.7 692.9,399.7 701.1,317.6 709.4,336.9 717.6,357.6 725.8,392.5 734.1,384.7 742.3,359.7 750.5,350.7 758.8,363.8 767.0,343.2 775.2,320.4 783.5,397.9 791.7,244.2 799.9,292.3 808.2,315.7 816.4,315.1 824.6,406.0 832.8,378.8 841.1,348.5 849.3,288.2 857.5,360.4 865.8,403.5 874.0,479.4 882.2,282.3 890.5,352.9 898.7,381.9 906.9,314.8 915.2,375.4 923.4,298.5 931.6,352.2 939.9,361.6 948.1,323.2 956.3,544.0 964.6,340.4"/>
<g fill="#000080"><circle cx="141.4" cy="429.7" r="3.5"/><circle cx="149.6" cy="392.2" r="3.5"/><circle cx="157.8" cy="386.3" r="3.5"/><circle cx="166.1" cy="415.7" r="3.5"/><circle cx="174.3" cy="355.7" r="3.5"/><circle cx="182.5" cy="409.1" r="3.5"/><circle cx="190.8" cy="331.6" r="3.5"/><circle cx="199.0" cy="388.2" r="3.5"/><circle cx="207.2" cy="436.0" r="3.5"/><circle cx="215.4" cy="420.7" r="3.5"/><circle cx="223.7" cy="442.2" r="3.5"/><circle cx="231.9" cy="396.3" r="3.5"/><circle cx="240.1" cy="391.9" r="3.5"/><circle cx="248.4" cy="392.2" r="3.5"/><circle cx="256.6" cy="431.6" r="3.5"/><circle cx="264.8" cy="366.6" r="3.5"/><circle cx="273.1" cy="365.4" r="3.5"/><circle cx="281.3" cy="371.3" r="3.5"/><circle cx="289.5" cy="401.6" r="3.5"/><circle cx="297.8" cy="456.0" r="3.5"/><circle cx="306.0" cy="386.3" r="3.5"/><circle cx="314.2" cy="411.9" r="3.5"/><circle cx="322.5" cy="410.7" r="3.5"/><circle cx="330.7" cy="417.8" r="3.5"/><circle cx="338.9" cy="396.3" r="3.5"/><circle cx="347.2" cy="391.3" r="3.5"/><circle cx="355.4" cy="358.8" r="3.5"/><circle cx="363.6" cy="329.1" r="3.5"/><circle cx="371.9" cy="384.4" r="3.5"/><circle cx="380.1" cy="375.4" r="3.5"/><circle cx="388.3" cy="406.6" r="3.5"/><circle cx="396.6" cy="393.5" r="3.5"/><circle cx="404.8" cy="417.2" r="3.5"/><circle cx="413.0" cy="431.9" r="3.5"/><circle cx="421.2" cy="396.3" r="3.5"/><circle cx="429.5" cy="426.6" r="3.5"/><circle cx="437.7" cy="357.6" r="3.5"/><circle cx="445.9" cy="374.1" r="3.5"/><circle cx="454.2" cy="373.5" r="3.5"/><circle cx="462.4" cy="460.9" r="3.5"/><circle cx="470.6" cy="381.6" r="3.5"/><circle cx="478.9" cy="417.5" r="3.5"/><circle cx="487.1" cy="463.8" r="3.5"/><circle cx="495.3" cy="459.1" r="3.5"/><circle cx="503.6" cy="432.5" r="3.5"/><circle cx="511.8" cy="427.2" r="3.5"/><circle cx="520.0" cy="392.9" r="3.5"/><circle cx="528.3" cy="372.6" r="3.5"/><circle cx="536.5" cy="405.7" r="3.5"/><circle cx="544.7" cy="423.8" r="3.5"/><circle cx="553.0" cy="424.7" r="3.5"/><circle cx="561.2" cy="398.5" r="3.5"/><circle cx="569.4" cy="431.0" r="3.5"/><circle cx="577.7" cy="438.8" r="3.5"/><circle cx="585.9" cy="453.8" r="3.5"/><circle cx="594.1" cy="393.5" r="3.5"/><circle cx="602.4" cy="409.1" r="3.5"/><circle cx="610.6" cy="441.6" r="3.5"/><circle cx="618.8" cy="322.0" r="3.5"/><circle cx="627.0" cy="428.5" r="3.5"/><circle cx="635.3" cy="417.2" r="3.5"/><circle cx="643.5" cy="399.4" r="3.5"/><circle cx="651.7" cy="501.6" r="3.5"/><circle cx="660.0" cy="402.2" r="3.5"/><circle cx="668.2" cy="449.1" r="3.5"/><circle cx="676.4" cy="386.6" r="3.5"/><circle cx="684.7" cy="374.7" r="3.5"/><circle cx="692.9" cy="399.7" r="3.5"/><circle cx="701.1" cy="317.6" r="3.5"/><circle cx="709.4" cy="336.9" r="3.5"/><circle cx="717.6" cy="357.6" r="3.5"/><circle cx="725.8" cy="392.5" r="3.5"/><circle cx="734.1" cy="384.7" r="3.5"/><circle cx="742.3" cy="359.7" r="3.5"/><circle cx="750.5" cy="350.7" r="3.5"/><circle cx="758.8" cy="363.8" r="3.5"/><circle cx="767.0" cy="343.2" r="3.5"/><circle cx="775.2" cy="320.4" r="3.5"/><circle cx="783.5" cy="397.9" r="3.5"/><circle cx="799.9" cy="292.3" r="3.5"/><circle cx="808.2" cy="315.7" r="3.5"/><circle cx="816.4" cy="315.1" r="3.5"/><circle cx="824.6" cy="406.0" r="3.5"/><circle cx="832.8" cy="378.8" r="3.5"/><circle cx="841.1" cy="348.5" r="3.5"/><circle cx="849.3" cy="288.2" r="3.5"/><circle cx="857.5" cy="360.4" r="3.5"/><circle cx="865.8" cy="403.5" r="3.5"/><circle cx="874.0" cy="479.4" r="3.5"/><circle cx="882.2" cy="282.3" r="3.5"/><circle cx="890.5" cy="352.9" r="3.5"/><circle cx="898.7" cy="381.9" r="3.5"/><circle cx="906.9" cy="314.8" r="3.5"/><circle cx="915.2" cy="375.4" r="3.5"/><circle cx="923.4" cy="298.5" r="3.5"/><circle cx="931.6" cy="352.2" r="3.5"/><circle cx="939.9" cy="361.6" r="3.5"/><circle cx="948.1" cy="323.2" r="3.5"/><circle cx="964.6" cy="340.4" r="3.5"/></g>
<line x1="196.1" x2="196.1" y1="263.0" y2="514.1" stroke="#7c7c7c" stroke-width="2.5" stroke-dasharray="2.4 3.77" stroke-dashoffset="4"/><line x1="278.8" x2="278.8" y1="263.0" y2="514.1" stroke="#7c7c7c" stroke-width="2.5" stroke-dasharray="2.4 3.77" stroke-dashoffset="4"/><line x1="362.0" x2="362.0" y1="263.0" y2="514.1" stroke="#7c7c7c" stroke-width="2.5" stroke-dasharray="2.4 3.77" stroke-dashoffset="4"/><line x1="447.6" x2="447.6" y1="263.0" y2="514.1" stroke="#7c7c7c" stroke-width="2.5" stroke-dasharray="2.4 3.77" stroke-dashoffset="4"/><line x1="531.1" x2="531.1" y1="263.0" y2="514.1" stroke="#7c7c7c" stroke-width="2.5" stroke-dasharray="2.4 3.77" stroke-dashoffset="4"/><line x1="618.0" x2="618.0" y1="263.0" y2="514.1" stroke="#7c7c7c" stroke-width="2.5" stroke-dasharray="2.4 3.77" stroke-dashoffset="4"/><line x1="711.8" x2="711.8" y1="263.0" y2="514.1" stroke="#7c7c7c" stroke-width="2.5" stroke-dasharray="2.4 3.77" stroke-dashoffset="4"/><line x1="797.5" x2="797.5" y1="263.0" y2="514.1" stroke="#7c7c7c" stroke-width="2.5" stroke-dasharray="2.4 3.77" stroke-dashoffset="4"/><line x1="879.4" x2="879.4" y1="263.0" y2="514.1" stroke="#7c7c7c" stroke-width="2.5" stroke-dasharray="2.4 3.77" stroke-dashoffset="4"/><line x1="968.7" x2="968.7" y1="263.0" y2="514.1" stroke="#7c7c7c" stroke-width="2.5" stroke-dasharray="2.4 3.77" stroke-dashoffset="4"/>
</g>
<path d="M100.20 514.1v-4.3M100.20 263.0v4.3M116.66 514.1v-4.3M116.66 263.0v4.3M133.13 514.1v-4.3M133.13 263.0v4.3M149.59 514.1v-4.3M149.59 263.0v4.3M166.06 514.1v-7.2M166.06 263.0v7.2M182.52 514.1v-4.3M182.52 263.0v4.3M198.98 514.1v-4.3M198.98 263.0v4.3M215.45 514.1v-4.3M215.45 263.0v4.3M231.91 514.1v-4.3M231.91 263.0v4.3M248.38 514.1v-7.2M248.38 263.0v7.2M264.84 514.1v-4.3M264.84 263.0v4.3M281.30 514.1v-4.3M281.30 263.0v4.3M297.77 514.1v-4.3M297.77 263.0v4.3M314.23 514.1v-4.3M314.23 263.0v4.3M330.70 514.1v-7.2M330.70 263.0v7.2M347.16 514.1v-4.3M347.16 263.0v4.3M363.62 514.1v-4.3M363.62 263.0v4.3M380.09 514.1v-4.3M380.09 263.0v4.3M396.55 514.1v-4.3M396.55 263.0v4.3M413.02 514.1v-7.2M413.02 263.0v7.2M429.48 514.1v-4.3M429.48 263.0v4.3M445.94 514.1v-4.3M445.94 263.0v4.3M462.41 514.1v-4.3M462.41 263.0v4.3M478.87 514.1v-4.3M478.87 263.0v4.3M495.34 514.1v-7.2M495.34 263.0v7.2M511.80 514.1v-4.3M511.80 263.0v4.3M528.26 514.1v-4.3M528.26 263.0v4.3M544.73 514.1v-4.3M544.73 263.0v4.3M561.19 514.1v-4.3M561.19 263.0v4.3M577.66 514.1v-7.2M577.66 263.0v7.2M594.12 514.1v-4.3M594.12 263.0v4.3M610.58 514.1v-4.3M610.58 263.0v4.3M627.05 514.1v-4.3M627.05 263.0v4.3M643.51 514.1v-4.3M643.51 263.0v4.3M659.98 514.1v-7.2M659.98 263.0v7.2M676.44 514.1v-4.3M676.44 263.0v4.3M692.90 514.1v-4.3M692.90 263.0v4.3M709.37 514.1v-4.3M709.37 263.0v4.3M725.83 514.1v-4.3M725.83 263.0v4.3M742.30 514.1v-7.2M742.30 263.0v7.2M758.76 514.1v-4.3M758.76 263.0v4.3M775.22 514.1v-4.3M775.22 263.0v4.3M791.69 514.1v-4.3M791.69 263.0v4.3M808.15 514.1v-4.3M808.15 263.0v4.3M824.62 514.1v-7.2M824.62 263.0v7.2M841.08 514.1v-4.3M841.08 263.0v4.3M857.54 514.1v-4.3M857.54 263.0v4.3M874.01 514.1v-4.3M874.01 263.0v4.3M890.47 514.1v-4.3M890.47 263.0v4.3M906.94 514.1v-7.2M906.94 263.0v7.2M923.40 514.1v-4.3M923.40 263.0v4.3M939.86 514.1v-4.3M939.86 263.0v4.3M956.33 514.1v-4.3M956.33 263.0v4.3M972.79 514.1v-4.3M972.79 263.0v4.3M989.26 514.1v-4.3M989.26 263.0v4.3M1005.72 514.1v-4.3M1005.72 263.0v4.3M100.7 451.33h7.2M1005.8 451.33h-7.2M100.7 388.55h7.2M1005.8 388.55h-7.2M100.7 325.77h7.2M1005.8 325.77h-7.2M100.7 514.11h4.3M1005.8 514.11h-4.3M100.7 501.55h4.3M1005.8 501.55h-4.3M100.7 489.00h4.3M1005.8 489.00h-4.3M100.7 476.44h4.3M1005.8 476.44h-4.3M100.7 463.89h4.3M1005.8 463.89h-4.3M100.7 438.77h4.3M1005.8 438.77h-4.3M100.7 426.22h4.3M1005.8 426.22h-4.3M100.7 413.66h4.3M1005.8 413.66h-4.3M100.7 401.11h4.3M1005.8 401.11h-4.3M100.7 375.99h4.3M1005.8 375.99h-4.3M100.7 363.44h4.3M1005.8 363.44h-4.3M100.7 350.88h4.3M1005.8 350.88h-4.3M100.7 338.33h4.3M1005.8 338.33h-4.3M100.7 313.21h4.3M1005.8 313.21h-4.3M100.7 300.66h4.3M1005.8 300.66h-4.3M100.7 288.10h4.3M1005.8 288.10h-4.3M100.7 275.55h4.3M1005.8 275.55h-4.3M100.7 262.99h4.3M1005.8 262.99h-4.3" stroke="#000" stroke-width="1.75" fill="none"/><rect x="100.7" y="263.0" width="905.0999999999999" height="251.10000000000002" fill="none" stroke="#000" stroke-width="1.75"/>
<text x="91.5" y="333.9" font-size="24.5" text-anchor="end">1</text>
<text x="91.5" y="396.7" font-size="24.5" text-anchor="end">0</text>
<text x="91.5" y="459.4" font-size="24.5" text-anchor="end">1</text>
<text x="63.5" y="461.4" font-size="24.5" textLength="16.6" lengthAdjust="spacingAndGlyphs">−</text>
<text transform="translate(47.3 430.8) rotate(-90)" font-size="32" >Ω</text>
<text transform="translate(52.0 407.9) rotate(-90)" font-size="40" >′</text>
<text transform="translate(47.3 391.9) rotate(-90)" font-size="30" >[</text>
<text transform="translate(47.3 382.2) rotate(-90)" font-size="30" font-style="italic">%</text>
<text transform="translate(47.3 356.9) rotate(-90)" font-size="30" >]</text>
<g clip-path="url(#cpc)">
<polygon points="141.4,689.4 149.6,670.9 157.8,658.1 166.1,666.6 174.3,661.5 182.5,674.1 190.8,555.9 199.0,679.4 207.2,703.9 215.4,733.6 223.7,714.8 231.9,643.4 240.1,669.7 248.4,664.1 256.6,659.7 264.8,595.4 273.1,722.4 281.3,668.1 289.5,685.7 297.8,729.3 306.0,666.2 314.2,692.6 322.5,673.1 330.7,634.9 338.9,636.5 347.2,576.0 355.4,637.7 363.6,601.0 371.9,673.1 380.1,633.0 388.3,642.1 396.6,648.1 404.8,682.2 413.0,663.4 421.2,632.4 429.5,634.3 437.7,646.2 445.9,639.6 454.2,636.5 462.4,705.1 470.6,654.3 478.9,665.0 487.1,779.4 495.3,728.6 503.6,726.1 511.8,698.2 520.0,709.2 528.3,677.8 536.5,675.0 544.7,704.5 553.0,643.4 561.2,666.2 569.4,641.2 577.7,710.8 585.9,686.9 594.1,632.1 602.4,565.9 610.6,732.7 618.8,788.2 627.0,622.7 635.3,631.1 643.5,633.0 651.7,696.7 660.0,635.2 668.2,709.2 676.4,647.4 684.7,609.2 692.9,627.1 701.1,653.7 709.4,609.8 717.6,644.0 725.8,634.6 734.1,621.7 742.3,667.8 750.5,633.6 758.8,667.8 767.0,621.7 775.2,588.5 783.5,524.2 791.7,574.4 799.9,481.0 808.2,517.6 816.4,590.1 824.6,615.5 832.8,574.1 841.1,561.8 849.3,577.5 857.5,601.0 865.8,562.8 874.0,586.6 882.2,718.0 890.5,541.5 898.7,642.1 906.9,536.1 915.2,593.5 923.4,561.8 931.6,553.1 939.9,525.5 948.1,514.2 956.3,549.0 964.6,616.7 964.6,634.3 956.3,566.6 948.1,531.8 939.9,543.0 931.6,570.6 923.4,579.4 915.2,611.1 906.9,553.7 898.7,659.7 890.5,559.0 882.2,735.5 874.0,604.2 865.8,580.3 857.5,618.6 849.3,595.1 841.1,579.4 832.8,591.6 824.6,633.0 816.4,607.6 808.2,535.2 799.9,498.5 791.7,591.9 783.5,541.8 775.2,606.1 767.0,639.3 758.8,685.4 750.5,651.2 742.3,685.4 734.1,639.3 725.8,652.1 717.6,661.5 709.4,627.4 701.1,671.3 692.9,644.6 684.7,626.7 676.4,665.0 668.2,726.8 660.0,652.8 651.7,714.2 643.5,650.6 635.3,648.7 627.0,640.2 618.8,805.8 610.6,750.3 602.4,583.5 594.1,649.6 585.9,704.5 577.7,728.3 569.4,658.7 561.2,683.8 553.0,660.9 544.7,722.0 536.5,692.6 528.3,695.4 520.0,726.8 511.8,715.8 503.6,743.7 495.3,746.2 487.1,797.0 478.9,682.5 470.6,671.9 462.4,722.7 454.2,654.0 445.9,657.2 437.7,663.7 429.5,651.8 421.2,649.9 413.0,681.0 404.8,699.8 396.6,665.6 388.3,659.7 380.1,650.6 371.9,690.7 363.6,618.6 355.4,655.3 347.2,593.5 338.9,654.0 330.7,652.5 322.5,690.7 314.2,710.1 306.0,683.8 297.8,746.8 289.5,703.2 281.3,685.7 273.1,739.9 264.8,612.9 256.6,677.2 248.4,681.6 240.1,687.2 231.9,660.9 223.7,732.4 215.4,751.2 207.2,721.4 199.0,697.0 190.8,573.4 182.5,691.6 174.3,679.1 166.1,684.1 157.8,675.6 149.6,688.5 141.4,707.0" fill="#c0502a" stroke="#c0502a" stroke-width="1.9" stroke-miterlimit="4" opacity="0.22"/>
<polygon points="141.4,685.4 149.6,692.0 157.8,646.2 166.1,615.1 174.3,573.8 182.5,655.9 190.8,622.7 199.0,651.5 207.2,695.4 215.4,676.0 223.7,708.9 231.9,680.0 240.1,666.2 248.4,657.2 256.6,717.7 264.8,640.5 273.1,660.9 281.3,673.5 289.5,673.1 297.8,709.8 306.0,661.2 314.2,669.1 322.5,665.0 330.7,697.6 338.9,651.5 347.2,741.2 355.4,581.0 363.6,651.5 371.9,684.1 380.1,644.0 388.3,673.1 396.6,638.7 404.8,703.9 413.0,724.2 421.2,660.0 429.5,681.0 437.7,652.1 445.9,674.7 454.2,657.8 462.4,755.9 470.6,670.9 478.9,697.3 487.1,706.7 495.3,723.0 503.6,692.0 511.8,681.9 520.0,599.2 528.3,664.4 536.5,655.0 544.7,694.1 553.0,693.8 561.2,660.0 569.4,674.4 577.7,678.5 585.9,712.3 594.1,626.4 602.4,608.6 610.6,660.9 618.8,608.2 627.0,725.8 635.3,691.0 643.5,710.4 651.7,761.5 660.0,635.8 668.2,691.0 676.4,660.3 684.7,544.0 692.9,682.9 701.1,245.8 709.4,603.2 717.6,617.7 725.8,641.8 734.1,634.6 742.3,592.9 750.5,562.2 758.8,598.8 767.0,606.7 775.2,518.6 783.5,635.2 791.7,399.5 799.9,585.0 808.2,587.9 816.4,597.0 824.6,664.7 832.8,650.9 841.1,631.1 849.3,549.0 857.5,565.0 865.8,650.6 874.0,659.0 882.2,421.4 890.5,609.8 898.7,653.1 906.9,593.8 915.2,614.2 923.4,567.5 931.6,663.4 939.9,677.2 948.1,537.4 956.3,678.8 964.6,460.3 964.6,477.8 956.3,696.3 948.1,555.0 939.9,694.8 931.6,681.0 923.4,585.0 915.2,631.8 906.9,611.4 898.7,670.6 890.5,627.4 882.2,439.0 874.0,676.6 865.8,668.1 857.5,582.5 849.3,566.6 841.1,648.7 832.8,668.4 824.6,682.2 816.4,614.5 808.2,605.4 799.9,602.6 791.7,417.0 783.5,652.8 775.2,536.1 767.0,624.2 758.8,616.4 750.5,579.7 742.3,610.4 734.1,652.1 725.8,659.3 717.6,635.2 709.4,620.8 701.1,263.4 692.9,700.4 684.7,561.5 676.4,677.8 668.2,708.6 660.0,653.4 651.7,779.1 643.5,728.0 635.3,708.6 627.0,743.4 618.8,625.8 610.6,678.5 602.4,626.1 594.1,644.0 585.9,729.9 577.7,696.0 569.4,692.0 561.2,677.5 553.0,711.4 544.7,711.7 536.5,672.5 528.3,681.9 520.0,616.7 511.8,699.5 503.6,709.5 495.3,740.5 487.1,724.2 478.9,714.8 470.6,688.5 462.4,773.5 454.2,675.3 445.9,692.3 437.7,669.7 429.5,698.5 421.2,677.5 413.0,741.8 404.8,721.4 396.6,656.2 388.3,690.7 380.1,661.5 371.9,701.7 363.6,669.1 355.4,598.5 347.2,758.7 338.9,669.1 330.7,715.2 322.5,682.5 314.2,686.6 306.0,678.8 297.8,727.4 289.5,690.7 281.3,691.0 273.1,678.5 264.8,658.1 256.6,735.2 248.4,674.7 240.1,683.8 231.9,697.6 223.7,726.4 215.4,693.5 207.2,713.0 199.0,669.1 190.8,640.2 182.5,673.5 174.3,591.3 166.1,632.7 157.8,663.7 149.6,709.5 141.4,702.9" fill="#1a0a90" stroke="#1a0a90" stroke-width="1.9" stroke-miterlimit="4" opacity="0.21"/>
<line x1="100.7" x2="1005.8" y1="649.95" y2="649.95" stroke="#a0a0a0" stroke-width="2.2" stroke-dasharray="8.9 3.3"/>
<polyline fill="none" stroke="#dc143c" stroke-width="2.6" stroke-linejoin="round" points="141.4,698.2 149.6,679.7 157.8,666.9 166.1,675.3 174.3,670.3 182.5,682.9 190.8,564.7 199.0,688.2 207.2,712.6 215.4,742.4 223.7,723.6 231.9,652.1 240.1,678.5 248.4,672.8 256.6,668.4 264.8,604.2 273.1,731.1 281.3,676.9 289.5,694.5 297.8,738.0 306.0,675.0 314.2,701.4 322.5,681.9 330.7,643.7 338.9,645.2 347.2,584.7 355.4,646.5 363.6,609.8 371.9,681.9 380.1,641.8 388.3,650.9 396.6,656.8 404.8,691.0 413.0,672.2 421.2,641.2 429.5,643.0 437.7,655.0 445.9,648.4 454.2,645.2 462.4,713.9 470.6,663.1 478.9,673.8 487.1,788.2 495.3,737.4 503.6,734.9 511.8,707.0 520.0,718.0 528.3,686.6 536.5,683.8 544.7,713.3 553.0,652.1 561.2,675.0 569.4,649.9 577.7,719.5 585.9,695.7 594.1,640.9 602.4,574.7 610.6,741.5 618.8,797.0 627.0,631.4 635.3,639.9 643.5,641.8 651.7,705.4 660.0,644.0 668.2,718.0 676.4,656.2 684.7,618.0 692.9,635.8 701.1,662.5 709.4,618.6 717.6,652.8 725.8,643.4 734.1,630.5 742.3,676.6 750.5,642.4 758.8,676.6 767.0,630.5 775.2,597.3 783.5,533.0 791.7,583.2 799.9,489.7 808.2,526.4 816.4,598.8 824.6,624.2 832.8,582.9 841.1,570.6 849.3,586.3 857.5,609.8 865.8,571.6 874.0,595.4 882.2,726.8 890.5,550.2 898.7,650.9 906.9,544.9 915.2,602.3 923.4,570.6 931.6,561.8 939.9,534.3 948.1,523.0 956.3,557.8 964.6,625.5"/>
<g fill="#dc143c"><circle cx="141.4" cy="698.2" r="3.5"/><circle cx="149.6" cy="679.7" r="3.5"/><circle cx="157.8" cy="666.9" r="3.5"/><circle cx="166.1" cy="675.3" r="3.5"/><circle cx="174.3" cy="670.3" r="3.5"/><circle cx="182.5" cy="682.9" r="3.5"/><circle cx="190.8" cy="564.7" r="3.5"/><circle cx="199.0" cy="688.2" r="3.5"/><circle cx="207.2" cy="712.6" r="3.5"/><circle cx="215.4" cy="742.4" r="3.5"/><circle cx="223.7" cy="723.6" r="3.5"/><circle cx="231.9" cy="652.1" r="3.5"/><circle cx="240.1" cy="678.5" r="3.5"/><circle cx="248.4" cy="672.8" r="3.5"/><circle cx="256.6" cy="668.4" r="3.5"/><circle cx="264.8" cy="604.2" r="3.5"/><circle cx="273.1" cy="731.1" r="3.5"/><circle cx="281.3" cy="676.9" r="3.5"/><circle cx="289.5" cy="694.5" r="3.5"/><circle cx="297.8" cy="738.0" r="3.5"/><circle cx="306.0" cy="675.0" r="3.5"/><circle cx="314.2" cy="701.4" r="3.5"/><circle cx="322.5" cy="681.9" r="3.5"/><circle cx="330.7" cy="643.7" r="3.5"/><circle cx="338.9" cy="645.2" r="3.5"/><circle cx="347.2" cy="584.7" r="3.5"/><circle cx="355.4" cy="646.5" r="3.5"/><circle cx="363.6" cy="609.8" r="3.5"/><circle cx="371.9" cy="681.9" r="3.5"/><circle cx="380.1" cy="641.8" r="3.5"/><circle cx="388.3" cy="650.9" r="3.5"/><circle cx="396.6" cy="656.8" r="3.5"/><circle cx="404.8" cy="691.0" r="3.5"/><circle cx="413.0" cy="672.2" r="3.5"/><circle cx="421.2" cy="641.2" r="3.5"/><circle cx="429.5" cy="643.0" r="3.5"/><circle cx="437.7" cy="655.0" r="3.5"/><circle cx="445.9" cy="648.4" r="3.5"/><circle cx="454.2" cy="645.2" r="3.5"/><circle cx="462.4" cy="713.9" r="3.5"/><circle cx="470.6" cy="663.1" r="3.5"/><circle cx="478.9" cy="673.8" r="3.5"/><circle cx="495.3" cy="737.4" r="3.5"/><circle cx="503.6" cy="734.9" r="3.5"/><circle cx="511.8" cy="707.0" r="3.5"/><circle cx="520.0" cy="718.0" r="3.5"/><circle cx="528.3" cy="686.6" r="3.5"/><circle cx="536.5" cy="683.8" r="3.5"/><circle cx="544.7" cy="713.3" r="3.5"/><circle cx="553.0" cy="652.1" r="3.5"/><circle cx="561.2" cy="675.0" r="3.5"/><circle cx="569.4" cy="649.9" r="3.5"/><circle cx="577.7" cy="719.5" r="3.5"/><circle cx="585.9" cy="695.7" r="3.5"/><circle cx="594.1" cy="640.9" r="3.5"/><circle cx="602.4" cy="574.7" r="3.5"/><circle cx="610.6" cy="741.5" r="3.5"/><circle cx="627.0" cy="631.4" r="3.5"/><circle cx="635.3" cy="639.9" r="3.5"/><circle cx="643.5" cy="641.8" r="3.5"/><circle cx="651.7" cy="705.4" r="3.5"/><circle cx="660.0" cy="644.0" r="3.5"/><circle cx="668.2" cy="718.0" r="3.5"/><circle cx="676.4" cy="656.2" r="3.5"/><circle cx="684.7" cy="618.0" r="3.5"/><circle cx="692.9" cy="635.8" r="3.5"/><circle cx="701.1" cy="662.5" r="3.5"/><circle cx="709.4" cy="618.6" r="3.5"/><circle cx="717.6" cy="652.8" r="3.5"/><circle cx="725.8" cy="643.4" r="3.5"/><circle cx="734.1" cy="630.5" r="3.5"/><circle cx="742.3" cy="676.6" r="3.5"/><circle cx="750.5" cy="642.4" r="3.5"/><circle cx="758.8" cy="676.6" r="3.5"/><circle cx="767.0" cy="630.5" r="3.5"/><circle cx="775.2" cy="597.3" r="3.5"/><circle cx="783.5" cy="533.0" r="3.5"/><circle cx="791.7" cy="583.2" r="3.5"/><circle cx="808.2" cy="526.4" r="3.5"/><circle cx="816.4" cy="598.8" r="3.5"/><circle cx="824.6" cy="624.2" r="3.5"/><circle cx="832.8" cy="582.9" r="3.5"/><circle cx="841.1" cy="570.6" r="3.5"/><circle cx="849.3" cy="586.3" r="3.5"/><circle cx="857.5" cy="609.8" r="3.5"/><circle cx="865.8" cy="571.6" r="3.5"/><circle cx="874.0" cy="595.4" r="3.5"/><circle cx="882.2" cy="726.8" r="3.5"/><circle cx="890.5" cy="550.2" r="3.5"/><circle cx="898.7" cy="650.9" r="3.5"/><circle cx="906.9" cy="544.9" r="3.5"/><circle cx="915.2" cy="602.3" r="3.5"/><circle cx="923.4" cy="570.6" r="3.5"/><circle cx="931.6" cy="561.8" r="3.5"/><circle cx="939.9" cy="534.3" r="3.5"/><circle cx="948.1" cy="523.0" r="3.5"/><circle cx="956.3" cy="557.8" r="3.5"/><circle cx="964.6" cy="625.5" r="3.5"/></g>
<polyline fill="none" stroke="#000080" stroke-width="2.6" stroke-linejoin="round" points="141.4,694.1 149.6,700.7 157.8,655.0 166.1,623.9 174.3,582.5 182.5,664.7 190.8,631.4 199.0,660.3 207.2,704.2 215.4,684.7 223.7,717.7 231.9,688.8 240.1,675.0 248.4,665.9 256.6,726.4 264.8,649.3 273.1,669.7 281.3,682.2 289.5,681.9 297.8,718.6 306.0,670.0 314.2,677.8 322.5,673.8 330.7,706.4 338.9,660.3 347.2,749.9 355.4,589.8 363.6,660.3 371.9,692.9 380.1,652.8 388.3,681.9 396.6,647.4 404.8,712.6 413.0,733.0 421.2,668.8 429.5,689.8 437.7,660.9 445.9,683.5 454.2,666.6 462.4,764.7 470.6,679.7 478.9,706.1 487.1,715.5 495.3,731.8 503.6,700.7 511.8,690.7 520.0,607.9 528.3,673.1 536.5,663.7 544.7,702.9 553.0,702.6 561.2,668.8 569.4,683.2 577.7,687.2 585.9,721.1 594.1,635.2 602.4,617.3 610.6,669.7 618.8,617.0 627.0,734.6 635.3,699.8 643.5,719.2 651.7,770.3 660.0,644.6 668.2,699.8 676.4,669.1 684.7,552.8 692.9,691.6 701.1,254.6 709.4,612.0 717.6,626.4 725.8,650.6 734.1,643.4 742.3,601.7 750.5,570.9 758.8,607.6 767.0,615.5 775.2,527.4 783.5,644.0 791.7,408.2 799.9,593.8 808.2,596.6 816.4,605.7 824.6,673.5 832.8,659.7 841.1,639.9 849.3,557.8 857.5,573.8 865.8,659.3 874.0,667.8 882.2,430.2 890.5,618.6 898.7,661.9 906.9,602.6 915.2,623.0 923.4,576.3 931.6,672.2 939.9,686.0 948.1,546.2 956.3,687.6 964.6,469.1"/>
<g fill="#000080"><circle cx="141.4" cy="694.1" r="3.5"/><circle cx="149.6" cy="700.7" r="3.5"/><circle cx="157.8" cy="655.0" r="3.5"/><circle cx="166.1" cy="623.9" r="3.5"/><circle cx="174.3" cy="582.5" r="3.5"/><circle cx="182.5" cy="664.7" r="3.5"/><circle cx="190.8" cy="631.4" r="3.5"/><circle cx="199.0" cy="660.3" r="3.5"/><circle cx="207.2" cy="704.2" r="3.5"/><circle cx="215.4" cy="684.7" r="3.5"/><circle cx="223.7" cy="717.7" r="3.5"/><circle cx="231.9" cy="688.8" r="3.5"/><circle cx="240.1" cy="675.0" r="3.5"/><circle cx="248.4" cy="665.9" r="3.5"/><circle cx="256.6" cy="726.4" r="3.5"/><circle cx="264.8" cy="649.3" r="3.5"/><circle cx="273.1" cy="669.7" r="3.5"/><circle cx="281.3" cy="682.2" r="3.5"/><circle cx="289.5" cy="681.9" r="3.5"/><circle cx="297.8" cy="718.6" r="3.5"/><circle cx="306.0" cy="670.0" r="3.5"/><circle cx="314.2" cy="677.8" r="3.5"/><circle cx="322.5" cy="673.8" r="3.5"/><circle cx="330.7" cy="706.4" r="3.5"/><circle cx="338.9" cy="660.3" r="3.5"/><circle cx="347.2" cy="749.9" r="3.5"/><circle cx="355.4" cy="589.8" r="3.5"/><circle cx="363.6" cy="660.3" r="3.5"/><circle cx="371.9" cy="692.9" r="3.5"/><circle cx="380.1" cy="652.8" r="3.5"/><circle cx="388.3" cy="681.9" r="3.5"/><circle cx="396.6" cy="647.4" r="3.5"/><circle cx="404.8" cy="712.6" r="3.5"/><circle cx="413.0" cy="733.0" r="3.5"/><circle cx="421.2" cy="668.8" r="3.5"/><circle cx="429.5" cy="689.8" r="3.5"/><circle cx="437.7" cy="660.9" r="3.5"/><circle cx="445.9" cy="683.5" r="3.5"/><circle cx="454.2" cy="666.6" r="3.5"/><circle cx="462.4" cy="764.7" r="3.5"/><circle cx="470.6" cy="679.7" r="3.5"/><circle cx="478.9" cy="706.1" r="3.5"/><circle cx="487.1" cy="715.5" r="3.5"/><circle cx="495.3" cy="731.8" r="3.5"/><circle cx="503.6" cy="700.7" r="3.5"/><circle cx="511.8" cy="690.7" r="3.5"/><circle cx="520.0" cy="607.9" r="3.5"/><circle cx="528.3" cy="673.1" r="3.5"/><circle cx="536.5" cy="663.7" r="3.5"/><circle cx="544.7" cy="702.9" r="3.5"/><circle cx="553.0" cy="702.6" r="3.5"/><circle cx="561.2" cy="668.8" r="3.5"/><circle cx="569.4" cy="683.2" r="3.5"/><circle cx="577.7" cy="687.2" r="3.5"/><circle cx="585.9" cy="721.1" r="3.5"/><circle cx="594.1" cy="635.2" r="3.5"/><circle cx="602.4" cy="617.3" r="3.5"/><circle cx="610.6" cy="669.7" r="3.5"/><circle cx="618.8" cy="617.0" r="3.5"/><circle cx="627.0" cy="734.6" r="3.5"/><circle cx="635.3" cy="699.8" r="3.5"/><circle cx="643.5" cy="719.2" r="3.5"/><circle cx="651.7" cy="770.3" r="3.5"/><circle cx="660.0" cy="644.6" r="3.5"/><circle cx="668.2" cy="699.8" r="3.5"/><circle cx="676.4" cy="669.1" r="3.5"/><circle cx="684.7" cy="552.8" r="3.5"/><circle cx="692.9" cy="691.6" r="3.5"/><circle cx="709.4" cy="612.0" r="3.5"/><circle cx="717.6" cy="626.4" r="3.5"/><circle cx="725.8" cy="650.6" r="3.5"/><circle cx="734.1" cy="643.4" r="3.5"/><circle cx="742.3" cy="601.7" r="3.5"/><circle cx="750.5" cy="570.9" r="3.5"/><circle cx="758.8" cy="607.6" r="3.5"/><circle cx="767.0" cy="615.5" r="3.5"/><circle cx="775.2" cy="527.4" r="3.5"/><circle cx="783.5" cy="644.0" r="3.5"/><circle cx="799.9" cy="593.8" r="3.5"/><circle cx="808.2" cy="596.6" r="3.5"/><circle cx="816.4" cy="605.7" r="3.5"/><circle cx="824.6" cy="673.5" r="3.5"/><circle cx="832.8" cy="659.7" r="3.5"/><circle cx="841.1" cy="639.9" r="3.5"/><circle cx="849.3" cy="557.8" r="3.5"/><circle cx="857.5" cy="573.8" r="3.5"/><circle cx="865.8" cy="659.3" r="3.5"/><circle cx="874.0" cy="667.8" r="3.5"/><circle cx="890.5" cy="618.6" r="3.5"/><circle cx="898.7" cy="661.9" r="3.5"/><circle cx="906.9" cy="602.6" r="3.5"/><circle cx="915.2" cy="623.0" r="3.5"/><circle cx="923.4" cy="576.3" r="3.5"/><circle cx="931.6" cy="672.2" r="3.5"/><circle cx="939.9" cy="686.0" r="3.5"/><circle cx="948.1" cy="546.2" r="3.5"/><circle cx="956.3" cy="687.6" r="3.5"/></g>
<line x1="196.1" x2="196.1" y1="524.2" y2="775.7" stroke="#7c7c7c" stroke-width="2.5" stroke-dasharray="2.4 3.77" stroke-dashoffset="4"/><line x1="278.8" x2="278.8" y1="524.2" y2="775.7" stroke="#7c7c7c" stroke-width="2.5" stroke-dasharray="2.4 3.77" stroke-dashoffset="4"/><line x1="362.0" x2="362.0" y1="524.2" y2="775.7" stroke="#7c7c7c" stroke-width="2.5" stroke-dasharray="2.4 3.77" stroke-dashoffset="4"/><line x1="447.6" x2="447.6" y1="524.2" y2="775.7" stroke="#7c7c7c" stroke-width="2.5" stroke-dasharray="2.4 3.77" stroke-dashoffset="4"/><line x1="531.1" x2="531.1" y1="524.2" y2="775.7" stroke="#7c7c7c" stroke-width="2.5" stroke-dasharray="2.4 3.77" stroke-dashoffset="4"/><line x1="618.0" x2="618.0" y1="524.2" y2="775.7" stroke="#7c7c7c" stroke-width="2.5" stroke-dasharray="2.4 3.77" stroke-dashoffset="4"/><line x1="711.8" x2="711.8" y1="524.2" y2="775.7" stroke="#7c7c7c" stroke-width="2.5" stroke-dasharray="2.4 3.77" stroke-dashoffset="4"/><line x1="797.5" x2="797.5" y1="524.2" y2="775.7" stroke="#7c7c7c" stroke-width="2.5" stroke-dasharray="2.4 3.77" stroke-dashoffset="4"/><line x1="879.4" x2="879.4" y1="524.2" y2="775.7" stroke="#7c7c7c" stroke-width="2.5" stroke-dasharray="2.4 3.77" stroke-dashoffset="4"/><line x1="968.7" x2="968.7" y1="524.2" y2="775.7" stroke="#7c7c7c" stroke-width="2.5" stroke-dasharray="2.4 3.77" stroke-dashoffset="4"/>
</g>
<path d="M100.20 775.7v-4.3M100.20 524.2v4.3M116.66 775.7v-4.3M116.66 524.2v4.3M133.13 775.7v-4.3M133.13 524.2v4.3M149.59 775.7v-4.3M149.59 524.2v4.3M166.06 775.7v-7.2M166.06 524.2v7.2M182.52 775.7v-4.3M182.52 524.2v4.3M198.98 775.7v-4.3M198.98 524.2v4.3M215.45 775.7v-4.3M215.45 524.2v4.3M231.91 775.7v-4.3M231.91 524.2v4.3M248.38 775.7v-7.2M248.38 524.2v7.2M264.84 775.7v-4.3M264.84 524.2v4.3M281.30 775.7v-4.3M281.30 524.2v4.3M297.77 775.7v-4.3M297.77 524.2v4.3M314.23 775.7v-4.3M314.23 524.2v4.3M330.70 775.7v-7.2M330.70 524.2v7.2M347.16 775.7v-4.3M347.16 524.2v4.3M363.62 775.7v-4.3M363.62 524.2v4.3M380.09 775.7v-4.3M380.09 524.2v4.3M396.55 775.7v-4.3M396.55 524.2v4.3M413.02 775.7v-7.2M413.02 524.2v7.2M429.48 775.7v-4.3M429.48 524.2v4.3M445.94 775.7v-4.3M445.94 524.2v4.3M462.41 775.7v-4.3M462.41 524.2v4.3M478.87 775.7v-4.3M478.87 524.2v4.3M495.34 775.7v-7.2M495.34 524.2v7.2M511.80 775.7v-4.3M511.80 524.2v4.3M528.26 775.7v-4.3M528.26 524.2v4.3M544.73 775.7v-4.3M544.73 524.2v4.3M561.19 775.7v-4.3M561.19 524.2v4.3M577.66 775.7v-7.2M577.66 524.2v7.2M594.12 775.7v-4.3M594.12 524.2v4.3M610.58 775.7v-4.3M610.58 524.2v4.3M627.05 775.7v-4.3M627.05 524.2v4.3M643.51 775.7v-4.3M643.51 524.2v4.3M659.98 775.7v-7.2M659.98 524.2v7.2M676.44 775.7v-4.3M676.44 524.2v4.3M692.90 775.7v-4.3M692.90 524.2v4.3M709.37 775.7v-4.3M709.37 524.2v4.3M725.83 775.7v-4.3M725.83 524.2v4.3M742.30 775.7v-7.2M742.30 524.2v7.2M758.76 775.7v-4.3M758.76 524.2v4.3M775.22 775.7v-4.3M775.22 524.2v4.3M791.69 775.7v-4.3M791.69 524.2v4.3M808.15 775.7v-4.3M808.15 524.2v4.3M824.62 775.7v-7.2M824.62 524.2v7.2M841.08 775.7v-4.3M841.08 524.2v4.3M857.54 775.7v-4.3M857.54 524.2v4.3M874.01 775.7v-4.3M874.01 524.2v4.3M890.47 775.7v-4.3M890.47 524.2v4.3M906.94 775.7v-7.2M906.94 524.2v7.2M923.40 775.7v-4.3M923.40 524.2v4.3M939.86 775.7v-4.3M939.86 524.2v4.3M956.33 775.7v-4.3M956.33 524.2v4.3M972.79 775.7v-4.3M972.79 524.2v4.3M989.26 775.7v-4.3M989.26 524.2v4.3M1005.72 775.7v-4.3M1005.72 524.2v4.3M100.7 712.82h7.2M1005.8 712.82h-7.2M100.7 649.95h7.2M1005.8 649.95h-7.2M100.7 587.08h7.2M1005.8 587.08h-7.2M100.7 775.69h4.3M1005.8 775.69h-4.3M100.7 763.12h4.3M1005.8 763.12h-4.3M100.7 750.54h4.3M1005.8 750.54h-4.3M100.7 737.97h4.3M1005.8 737.97h-4.3M100.7 725.39h4.3M1005.8 725.39h-4.3M100.7 700.25h4.3M1005.8 700.25h-4.3M100.7 687.67h4.3M1005.8 687.67h-4.3M100.7 675.10h4.3M1005.8 675.10h-4.3M100.7 662.52h4.3M1005.8 662.52h-4.3M100.7 637.38h4.3M1005.8 637.38h-4.3M100.7 624.80h4.3M1005.8 624.80h-4.3M100.7 612.23h4.3M1005.8 612.23h-4.3M100.7 599.65h4.3M1005.8 599.65h-4.3M100.7 574.51h4.3M1005.8 574.51h-4.3M100.7 561.93h4.3M1005.8 561.93h-4.3M100.7 549.36h4.3M1005.8 549.36h-4.3M100.7 536.78h4.3M1005.8 536.78h-4.3M100.7 524.21h4.3M1005.8 524.21h-4.3" stroke="#000" stroke-width="1.75" fill="none"/><rect x="100.7" y="524.2" width="905.0999999999999" height="251.5" fill="none" stroke="#000" stroke-width="1.75"/>
<text x="92.2" y="596.4" font-size="27.8" text-anchor="end">1</text>
<text x="92.2" y="659.2" font-size="27.8" text-anchor="end">0</text>
<text x="92.2" y="722.1" font-size="27.8" text-anchor="end">1</text>
<text x="57.4" y="723.7" font-size="27.8" textLength="20.2" lengthAdjust="spacingAndGlyphs">−</text>
<text transform="translate(42.0 692.1) rotate(-90)" font-size="32" >Ω</text>
<text transform="translate(46.7 669.2) rotate(-90)" font-size="40" >′</text>
<text transform="translate(42.0 653.2) rotate(-90)" font-size="30" >[</text>
<text transform="translate(42.0 643.5) rotate(-90)" font-size="30" font-style="italic">%</text>
<text transform="translate(42.0 618.2) rotate(-90)" font-size="30" >]</text>
<g clip-path="url(#cpd)">
<polygon points="141.4,927.9 149.6,910.7 157.8,902.0 166.1,911.9 174.3,900.9 182.5,905.0 190.8,843.7 199.0,910.7 207.2,921.0 215.4,930.2 223.7,939.3 231.9,889.7 240.1,903.8 248.4,907.3 256.6,921.0 264.8,863.3 273.1,914.1 281.3,927.9 289.5,890.1 297.8,943.9 306.0,898.1 314.2,918.7 322.5,906.6 330.7,897.0 338.9,882.1 347.2,859.2 355.4,862.7 363.6,837.5 371.9,878.7 380.1,862.7 388.3,882.1 396.6,879.8 404.8,916.4 413.0,916.4 421.2,886.7 429.5,902.7 437.7,885.5 445.9,883.3 454.2,871.1 462.4,943.9 470.6,892.4 478.9,910.7 487.1,991.9 495.3,971.4 503.6,953.0 511.8,947.3 520.0,910.7 528.3,903.8 536.5,912.3 544.7,921.0 553.0,885.5 561.2,897.0 569.4,903.8 577.7,954.2 585.9,956.5 594.1,884.4 602.4,870.7 610.6,946.2 618.8,917.6 627.0,919.9 635.3,918.7 643.5,905.0 651.7,1005.7 660.0,882.1 668.2,959.9 676.4,898.1 684.7,877.5 692.9,859.2 701.1,883.3 709.4,871.8 717.6,864.3 725.8,877.5 734.1,870.0 742.3,889.0 750.5,871.1 758.8,887.8 767.0,864.9 775.2,845.5 783.5,831.8 791.7,831.8 799.9,772.3 808.2,758.5 816.4,832.9 824.6,884.4 832.8,842.1 841.1,835.2 849.3,808.9 857.5,856.9 865.8,870.7 865.8,924.0 857.5,939.3 849.3,874.1 841.1,909.6 832.8,919.9 824.6,961.1 816.4,909.6 808.2,856.9 799.9,861.5 791.7,925.6 783.5,929.0 775.2,910.7 767.0,934.7 758.8,964.5 750.5,940.5 742.3,956.5 734.1,943.9 725.8,962.2 717.6,947.3 709.4,937.0 701.1,923.3 692.9,947.3 684.7,939.3 676.4,969.1 668.2,1046.9 660.0,957.6 651.7,1040.0 643.5,973.6 635.3,982.8 627.0,980.5 618.8,1003.4 610.6,1008.0 602.4,932.5 594.1,939.3 585.9,1020.6 577.7,1025.1 569.4,980.5 561.2,973.6 553.0,978.2 544.7,1011.4 536.5,994.7 528.3,974.1 520.0,991.9 511.8,1019.4 503.6,1028.6 495.3,1049.2 487.1,1074.3 478.9,987.4 470.6,973.6 462.4,1049.2 454.2,950.8 445.9,958.8 437.7,954.2 429.5,981.7 421.2,964.5 413.0,994.2 404.8,998.8 396.6,964.5 388.3,970.2 380.1,955.3 371.9,975.9 363.6,932.5 355.4,939.3 347.2,942.8 338.9,957.6 330.7,969.1 322.5,988.5 314.2,997.0 306.0,981.7 297.8,1034.3 289.5,991.9 281.3,995.4 273.1,1000.0 264.8,927.9 256.6,997.7 248.4,982.8 240.1,982.8 231.9,969.1 223.7,1025.1 215.4,1019.4 207.2,1005.7 199.0,985.1 190.8,937.0 182.5,985.1 174.3,959.9 166.1,982.8 157.8,980.5 149.6,987.4 141.4,1002.2" fill="#f0ddc8" stroke="#f0ddc8" stroke-width="1.6"/>
<line x1="882.2" x2="882.2" y1="789.4" y2="906.1" stroke="#f0ddc8" stroke-width="1.7"/>
<polygon points="898.7,897.0 906.9,811.2 915.2,824.7 923.4,807.3 931.6,845.0 939.9,833.1 948.1,822.2 956.3,805.0 964.6,780.3 964.6,980.1 956.3,930.9 948.1,886.7 939.9,916.0 931.6,918.3 923.4,878.9 915.2,917.6 906.9,896.3 898.7,957.6" fill="#f0ddc8" stroke="#f0ddc8" stroke-width="1.6"/>
<polyline fill="none" stroke="#ff0000" stroke-width="2.6" stroke-linejoin="round" points="141.4,965.2 149.6,948.5 157.8,940.9 166.1,948.5 174.3,929.0 182.5,946.6 190.8,886.7 199.0,947.3 207.2,965.2 215.4,975.9 223.7,984.4 231.9,930.6 240.1,942.8 248.4,945.0 256.6,960.4 264.8,895.8 273.1,956.5 281.3,962.2 289.5,940.5 297.8,988.5 306.0,938.2 314.2,959.9 322.5,948.9 330.7,934.3 338.9,921.0 347.2,900.4 355.4,902.2 363.6,883.3 371.9,931.3 380.1,907.3 388.3,926.7 396.6,922.6 404.8,958.1 413.0,955.8 421.2,922.6 429.5,943.9 437.7,918.0 445.9,921.7 454.2,913.0 462.4,996.5 470.6,930.6 478.9,950.3 487.1,1033.6 495.3,1012.1 503.6,990.8 511.8,983.3 520.0,955.8 528.3,938.9 536.5,953.3 544.7,967.5 553.0,931.3 561.2,935.4 569.4,941.1 577.7,989.7 585.9,989.0 594.1,911.9 602.4,902.2 610.6,977.1 618.8,960.4 627.0,949.6 635.3,951.2 643.5,939.8 651.7,1022.4 660.0,919.4 668.2,1003.4 676.4,934.1 684.7,908.4 692.9,903.4 701.1,902.9 709.4,904.5 717.6,905.7 725.8,920.3 734.1,906.1 742.3,924.4 750.5,904.3 758.8,928.3 767.0,900.4 775.2,876.8 783.5,879.8 791.7,879.1 799.9,816.9 808.2,804.3 816.4,871.1 824.6,924.4 832.8,881.7 841.1,872.5 849.3,840.5 857.5,898.1 865.8,897.0 874.0,972.0 882.2,847.8 890.5,898.1 898.7,927.4 906.9,851.7 915.2,872.5 923.4,840.9 931.6,883.3 939.9,875.2 948.1,852.4 956.3,870.7 964.6,878.4"/>
<g fill="#ff0000"><circle cx="141.4" cy="965.2" r="3.5"/><circle cx="149.6" cy="948.5" r="3.5"/><circle cx="157.8" cy="940.9" r="3.5"/><circle cx="166.1" cy="948.5" r="3.5"/><circle cx="174.3" cy="929.0" r="3.5"/><circle cx="182.5" cy="946.6" r="3.5"/><circle cx="190.8" cy="886.7" r="3.5"/><circle cx="199.0" cy="947.3" r="3.5"/><circle cx="207.2" cy="965.2" r="3.5"/><circle cx="215.4" cy="975.9" r="3.5"/><circle cx="223.7" cy="984.4" r="3.5"/><circle cx="231.9" cy="930.6" r="3.5"/><circle cx="240.1" cy="942.8" r="3.5"/><circle cx="248.4" cy="945.0" r="3.5"/><circle cx="256.6" cy="960.4" r="3.5"/><circle cx="264.8" cy="895.8" r="3.5"/><circle cx="273.1" cy="956.5" r="3.5"/><circle cx="281.3" cy="962.2" r="3.5"/><circle cx="289.5" cy="940.5" r="3.5"/><circle cx="297.8" cy="988.5" r="3.5"/><circle cx="306.0" cy="938.2" r="3.5"/><circle cx="314.2" cy="959.9" r="3.5"/><circle cx="322.5" cy="948.9" r="3.5"/><circle cx="330.7" cy="934.3" r="3.5"/><circle cx="338.9" cy="921.0" r="3.5"/><circle cx="347.2" cy="900.4" r="3.5"/><circle cx="355.4" cy="902.2" r="3.5"/><circle cx="363.6" cy="883.3" r="3.5"/><circle cx="371.9" cy="931.3" r="3.5"/><circle cx="380.1" cy="907.3" r="3.5"/><circle cx="388.3" cy="926.7" r="3.5"/><circle cx="396.6" cy="922.6" r="3.5"/><circle cx="404.8" cy="958.1" r="3.5"/><circle cx="413.0" cy="955.8" r="3.5"/><circle cx="421.2" cy="922.6" r="3.5"/><circle cx="429.5" cy="943.9" r="3.5"/><circle cx="437.7" cy="918.0" r="3.5"/><circle cx="445.9" cy="921.7" r="3.5"/><circle cx="454.2" cy="913.0" r="3.5"/><circle cx="462.4" cy="996.5" r="3.5"/><circle cx="470.6" cy="930.6" r="3.5"/><circle cx="478.9" cy="950.3" r="3.5"/><circle cx="487.1" cy="1033.6" r="3.5"/><circle cx="495.3" cy="1012.1" r="3.5"/><circle cx="503.6" cy="990.8" r="3.5"/><circle cx="511.8" cy="983.3" r="3.5"/><circle cx="520.0" cy="955.8" r="3.5"/><circle cx="528.3" cy="938.9" r="3.5"/><circle cx="536.5" cy="953.3" r="3.5"/><circle cx="544.7" cy="967.5" r="3.5"/><circle cx="553.0" cy="931.3" r="3.5"/><circle cx="561.2" cy="935.4" r="3.5"/><circle cx="569.4" cy="941.1" r="3.5"/><circle cx="577.7" cy="989.7" r="3.5"/><circle cx="585.9" cy="989.0" r="3.5"/><circle cx="594.1" cy="911.9" r="3.5"/><circle cx="602.4" cy="902.2" r="3.5"/><circle cx="610.6" cy="977.1" r="3.5"/><circle cx="618.8" cy="960.4" r="3.5"/><circle cx="627.0" cy="949.6" r="3.5"/><circle cx="635.3" cy="951.2" r="3.5"/><circle cx="643.5" cy="939.8" r="3.5"/><circle cx="651.7" cy="1022.4" r="3.5"/><circle cx="660.0" cy="919.4" r="3.5"/><circle cx="668.2" cy="1003.4" r="3.5"/><circle cx="676.4" cy="934.1" r="3.5"/><circle cx="684.7" cy="908.4" r="3.5"/><circle cx="692.9" cy="903.4" r="3.5"/><circle cx="701.1" cy="902.9" r="3.5"/><circle cx="709.4" cy="904.5" r="3.5"/><circle cx="717.6" cy="905.7" r="3.5"/><circle cx="725.8" cy="920.3" r="3.5"/><circle cx="734.1" cy="906.1" r="3.5"/><circle cx="742.3" cy="924.4" r="3.5"/><circle cx="750.5" cy="904.3" r="3.5"/><circle cx="758.8" cy="928.3" r="3.5"/><circle cx="767.0" cy="900.4" r="3.5"/><circle cx="775.2" cy="876.8" r="3.5"/><circle cx="783.5" cy="879.8" r="3.5"/><circle cx="791.7" cy="879.1" r="3.5"/><circle cx="799.9" cy="816.9" r="3.5"/><circle cx="808.2" cy="804.3" r="3.5"/><circle cx="816.4" cy="871.1" r="3.5"/><circle cx="824.6" cy="924.4" r="3.5"/><circle cx="832.8" cy="881.7" r="3.5"/><circle cx="841.1" cy="872.5" r="3.5"/><circle cx="849.3" cy="840.5" r="3.5"/><circle cx="857.5" cy="898.1" r="3.5"/><circle cx="865.8" cy="897.0" r="3.5"/><circle cx="874.0" cy="972.0" r="3.5"/><circle cx="882.2" cy="847.8" r="3.5"/><circle cx="890.5" cy="898.1" r="3.5"/><circle cx="898.7" cy="927.4" r="3.5"/><circle cx="906.9" cy="851.7" r="3.5"/><circle cx="915.2" cy="872.5" r="3.5"/><circle cx="923.4" cy="840.9" r="3.5"/><circle cx="931.6" cy="883.3" r="3.5"/><circle cx="939.9" cy="875.2" r="3.5"/><circle cx="948.1" cy="852.4" r="3.5"/><circle cx="956.3" cy="870.7" r="3.5"/><circle cx="964.6" cy="878.4" r="3.5"/></g>
<line x1="196.1" x2="196.1" y1="785.6" y2="1036.9" stroke="#7c7c7c" stroke-width="2.5" stroke-dasharray="2.4 3.77" stroke-dashoffset="4"/><line x1="278.8" x2="278.8" y1="785.6" y2="1036.9" stroke="#7c7c7c" stroke-width="2.5" stroke-dasharray="2.4 3.77" stroke-dashoffset="4"/><line x1="362.0" x2="362.0" y1="785.6" y2="1036.9" stroke="#7c7c7c" stroke-width="2.5" stroke-dasharray="2.4 3.77" stroke-dashoffset="4"/><line x1="447.6" x2="447.6" y1="785.6" y2="1036.9" stroke="#7c7c7c" stroke-width="2.5" stroke-dasharray="2.4 3.77" stroke-dashoffset="4"/><line x1="531.1" x2="531.1" y1="785.6" y2="1036.9" stroke="#7c7c7c" stroke-width="2.5" stroke-dasharray="2.4 3.77" stroke-dashoffset="4"/><line x1="618.0" x2="618.0" y1="785.6" y2="1036.9" stroke="#7c7c7c" stroke-width="2.5" stroke-dasharray="2.4 3.77" stroke-dashoffset="4"/><line x1="711.8" x2="711.8" y1="785.6" y2="1036.9" stroke="#7c7c7c" stroke-width="2.5" stroke-dasharray="2.4 3.77" stroke-dashoffset="4"/><line x1="797.5" x2="797.5" y1="785.6" y2="1036.9" stroke="#7c7c7c" stroke-width="2.5" stroke-dasharray="2.4 3.77" stroke-dashoffset="4"/><line x1="879.4" x2="879.4" y1="785.6" y2="1036.9" stroke="#7c7c7c" stroke-width="2.5" stroke-dasharray="2.4 3.77" stroke-dashoffset="4"/><line x1="968.7" x2="968.7" y1="785.6" y2="1036.9" stroke="#7c7c7c" stroke-width="2.5" stroke-dasharray="2.4 3.77" stroke-dashoffset="4"/>
</g>
<path d="M100.20 1036.9v-4.3M100.20 785.6v4.3M116.66 1036.9v-4.3M116.66 785.6v4.3M133.13 1036.9v-4.3M133.13 785.6v4.3M149.59 1036.9v-4.3M149.59 785.6v4.3M166.06 1036.9v-7.2M166.06 785.6v7.2M182.52 1036.9v-4.3M182.52 785.6v4.3M198.98 1036.9v-4.3M198.98 785.6v4.3M215.45 1036.9v-4.3M215.45 785.6v4.3M231.91 1036.9v-4.3M231.91 785.6v4.3M248.38 1036.9v-7.2M248.38 785.6v7.2M264.84 1036.9v-4.3M264.84 785.6v4.3M281.30 1036.9v-4.3M281.30 785.6v4.3M297.77 1036.9v-4.3M297.77 785.6v4.3M314.23 1036.9v-4.3M314.23 785.6v4.3M330.70 1036.9v-7.2M330.70 785.6v7.2M347.16 1036.9v-4.3M347.16 785.6v4.3M363.62 1036.9v-4.3M363.62 785.6v4.3M380.09 1036.9v-4.3M380.09 785.6v4.3M396.55 1036.9v-4.3M396.55 785.6v4.3M413.02 1036.9v-7.2M413.02 785.6v7.2M429.48 1036.9v-4.3M429.48 785.6v4.3M445.94 1036.9v-4.3M445.94 785.6v4.3M462.41 1036.9v-4.3M462.41 785.6v4.3M478.87 1036.9v-4.3M478.87 785.6v4.3M495.34 1036.9v-7.2M495.34 785.6v7.2M511.80 1036.9v-4.3M511.80 785.6v4.3M528.26 1036.9v-4.3M528.26 785.6v4.3M544.73 1036.9v-4.3M544.73 785.6v4.3M561.19 1036.9v-4.3M561.19 785.6v4.3M577.66 1036.9v-7.2M577.66 785.6v7.2M594.12 1036.9v-4.3M594.12 785.6v4.3M610.58 1036.9v-4.3M610.58 785.6v4.3M627.05 1036.9v-4.3M627.05 785.6v4.3M643.51 1036.9v-4.3M643.51 785.6v4.3M659.98 1036.9v-7.2M659.98 785.6v7.2M676.44 1036.9v-4.3M676.44 785.6v4.3M692.90 1036.9v-4.3M692.90 785.6v4.3M709.37 1036.9v-4.3M709.37 785.6v4.3M725.83 1036.9v-4.3M725.83 785.6v4.3M742.30 1036.9v-7.2M742.30 785.6v7.2M758.76 1036.9v-4.3M758.76 785.6v4.3M775.22 1036.9v-4.3M775.22 785.6v4.3M791.69 1036.9v-4.3M791.69 785.6v4.3M808.15 1036.9v-4.3M808.15 785.6v4.3M824.62 1036.9v-7.2M824.62 785.6v7.2M841.08 1036.9v-4.3M841.08 785.6v4.3M857.54 1036.9v-4.3M857.54 785.6v4.3M874.01 1036.9v-4.3M874.01 785.6v4.3M890.47 1036.9v-4.3M890.47 785.6v4.3M906.94 1036.9v-7.2M906.94 785.6v7.2M923.40 1036.9v-4.3M923.40 785.6v4.3M939.86 1036.9v-4.3M939.86 785.6v4.3M956.33 1036.9v-4.3M956.33 785.6v4.3M972.79 1036.9v-4.3M972.79 785.6v4.3M989.26 1036.9v-4.3M989.26 785.6v4.3M1005.72 1036.9v-4.3M1005.72 785.6v4.3M100.7 1036.90h7.2M1005.8 1036.90h-7.2M100.7 945.52h7.2M1005.8 945.52h-7.2M100.7 854.14h7.2M1005.8 854.14h-7.2M100.7 1014.05h4.3M1005.8 1014.05h-4.3M100.7 991.21h4.3M1005.8 991.21h-4.3M100.7 968.36h4.3M1005.8 968.36h-4.3M100.7 922.68h4.3M1005.8 922.68h-4.3M100.7 899.83h4.3M1005.8 899.83h-4.3M100.7 876.98h4.3M1005.8 876.98h-4.3M100.7 831.29h4.3M1005.8 831.29h-4.3M100.7 808.45h4.3M1005.8 808.45h-4.3M100.7 785.60h4.3M1005.8 785.60h-4.3" stroke="#000" stroke-width="1.75" fill="none"/><rect x="100.7" y="785.6" width="905.0999999999999" height="251.30000000000007" fill="none" stroke="#000" stroke-width="1.75"/>
<text x="92" y="1046.2" font-size="27.8" text-anchor="end">14.2</text>
<text x="92" y="954.8" font-size="27.8" text-anchor="end">14.4</text>
<text x="92" y="863.4" font-size="27.8" text-anchor="end">14.6</text>
<text transform="translate(27.2 972.9) rotate(-90)" font-size="32" >Ω</text>
<text transform="translate(27.2 943.3) rotate(-90)" font-size="30" >[</text>
<text transform="translate(16.4 930.9) rotate(-90)" font-size="22" >o</text>
<text transform="translate(27.2 913.0) rotate(-90)" font-size="30" textLength="39.5" lengthAdjust="spacingAndGlyphs">day</text>
<text transform="translate(9.5 872.0) rotate(-90)" font-size="21" >-</text>
<text transform="translate(9.5 866.6) rotate(-90)" font-size="21" >1</text>
<text transform="translate(27.2 857.3) rotate(-90)" font-size="30" >]</text>
<text x="166.9" y="1064.7" font-size="27.8" text-anchor="middle">1910</text>
<text x="249.2" y="1064.7" font-size="27.8" text-anchor="middle">1920</text>
<text x="331.5" y="1064.7" font-size="27.8" text-anchor="middle">1930</text>
<text x="413.8" y="1064.7" font-size="27.8" text-anchor="middle">1940</text>
<text x="496.1" y="1064.7" font-size="27.8" text-anchor="middle">1950</text>
<text x="578.5" y="1064.7" font-size="27.8" text-anchor="middle">1960</text>
<text x="660.8" y="1064.7" font-size="27.8" text-anchor="middle">1970</text>
<text x="743.1" y="1064.7" font-size="27.8" text-anchor="middle">1980</text>
<text x="825.4" y="1064.7" font-size="27.8" text-anchor="middle">1990</text>
<text x="907.7" y="1064.7" font-size="27.8" text-anchor="middle">2000</text>
<text x="553" y="1099.7" font-size="30" text-anchor="middle">Time [Year]</text>
<text x="141.4" y="39.3" font-size="28.5" textLength="13.7" lengthAdjust="spacingAndGlyphs">0</text>
<text x="155.6" y="39.3" font-size="29" >°</text>
<text x="174.6" y="43.3" font-size="36.5" >&lt;</text>
<text x="203.2" y="39.3" font-size="31.5" >|</text>
<text x="209.8" y="39.3" font-size="29" textLength="93.6" lengthAdjust="spacingAndGlyphs">Latitude</text>
<text x="303.9" y="39.3" font-size="31.5" >|</text>
<text x="318.3" y="43.3" font-size="36.5" >&lt;</text>
<text x="347.4" y="39.3" font-size="28.5" textLength="27.4" lengthAdjust="spacingAndGlyphs">10</text>
<text x="374.0" y="39.3" font-size="29" >°</text>
<text x="142.4" y="300.3" font-size="28.5" textLength="27.4" lengthAdjust="spacingAndGlyphs">10</text>
<text x="169.9" y="300.3" font-size="29" >°</text>
<text x="188.9" y="304.3" font-size="36.5" >&lt;</text>
<text x="217.6" y="300.3" font-size="31.5" >|</text>
<text x="224.1" y="300.3" font-size="29" textLength="93.6" lengthAdjust="spacingAndGlyphs">Latitude</text>
<text x="318.2" y="300.3" font-size="31.5" >|</text>
<text x="332.6" y="304.3" font-size="36.5" >&lt;</text>
<text x="361.7" y="300.3" font-size="28.5" textLength="27.4" lengthAdjust="spacingAndGlyphs">20</text>
<text x="388.3" y="300.3" font-size="29" >°</text>
<text x="142.4" y="561.8" font-size="28.5" textLength="27.4" lengthAdjust="spacingAndGlyphs">20</text>
<text x="169.9" y="561.8" font-size="29" >°</text>
<text x="188.9" y="565.8" font-size="36.5" >&lt;</text>
<text x="217.6" y="561.8" font-size="31.5" >|</text>
<text x="224.1" y="561.8" font-size="29" textLength="93.6" lengthAdjust="spacingAndGlyphs">Latitude</text>
<text x="318.2" y="561.8" font-size="31.5" >|</text>
<text x="332.6" y="565.8" font-size="36.5" >&lt;</text>
<text x="361.7" y="561.8" font-size="28.5" textLength="27.4" lengthAdjust="spacingAndGlyphs">30</text>
<text x="388.3" y="561.8" font-size="29" >°</text>
<text x="143.0" y="831.8" font-size="29" textLength="18.9" lengthAdjust="spacingAndGlyphs">−</text>
<text x="162.6" y="831.8" font-size="28.5" textLength="27.4" lengthAdjust="spacingAndGlyphs">30</text>
<text x="189.4" y="831.8" font-size="29" >°</text>
<text x="209.7" y="835.8" font-size="36.5" >&lt;</text>
<text x="236.7" y="831.8" font-size="29" textLength="93.6" lengthAdjust="spacingAndGlyphs">Latitude</text>
<text x="339.5" y="835.8" font-size="36.5" >&lt;</text>
<text x="366.3" y="831.8" font-size="28.5" textLength="27.4" lengthAdjust="spacingAndGlyphs">30</text>
<text x="394.4" y="831.8" font-size="29" >°</text>
<line x1="398.1" x2="438.6" y1="35.5" y2="35.5" stroke="#dc143c" stroke-width="2.6"/><circle cx="418.35" cy="35.5" r="3.5" fill="#dc143c"/>
<text x="459.4" y="45.4" font-size="28.5" fill="#dc143c" style="stroke:#dc143c" textLength="65.5" lengthAdjust="spacingAndGlyphs">North</text>
<line x1="580.2" x2="620.7" y1="35.5" y2="35.5" stroke="#000080" stroke-width="2.6"/><circle cx="600.45" cy="35.5" r="3.5" fill="#000080"/>
<text x="642.5" y="45.4" font-size="28.5" fill="#000080" style="stroke:#000080" textLength="65" lengthAdjust="spacingAndGlyphs">South</text>
<line x1="472.5" x2="513.2" y1="820.8" y2="820.8" stroke="#ff0000" stroke-width="2.6"/><circle cx="492.85" cy="820.8" r="3.5" fill="#ff0000"/>
<text x="534.4" y="830.8" font-size="28.5" fill="#ff0000" style="stroke:#ff0000" textLength="98.5" lengthAdjust="spacingAndGlyphs">Full disk</text>
<text x="965.7" y="39.3" font-size="35.5">(a</text>
<text x="965.7" y="300.3" font-size="35.5">(b</text>
<text x="965.7" y="561.8" font-size="35.5">(c</text>
<text x="965.7" y="831" font-size="35.5">(d</text>
<text x="153.7" y="481.8" font-size="23" text-anchor="middle">14</text>
<text x="236.2" y="481.8" font-size="23" text-anchor="middle">15</text>
<text x="318" y="481.8" font-size="23" text-anchor="middle">16</text>
<text x="408.4" y="481.8" font-size="23" text-anchor="middle">17</text>
<text x="490.8" y="481.8" font-size="23" text-anchor="middle">18</text>
<text x="573.1" y="481.8" font-size="23" text-anchor="middle">19</text>
<text x="663.7" y="481.8" font-size="23" text-anchor="middle">20</text>
<text x="752.9" y="481.8" font-size="23" text-anchor="middle">21</text>
<text x="836" y="481.8" font-size="23" text-anchor="middle">22</text>
<text x="926.3" y="481.8" font-size="23" text-anchor="middle">23</text>
</svg>
</body></html>
